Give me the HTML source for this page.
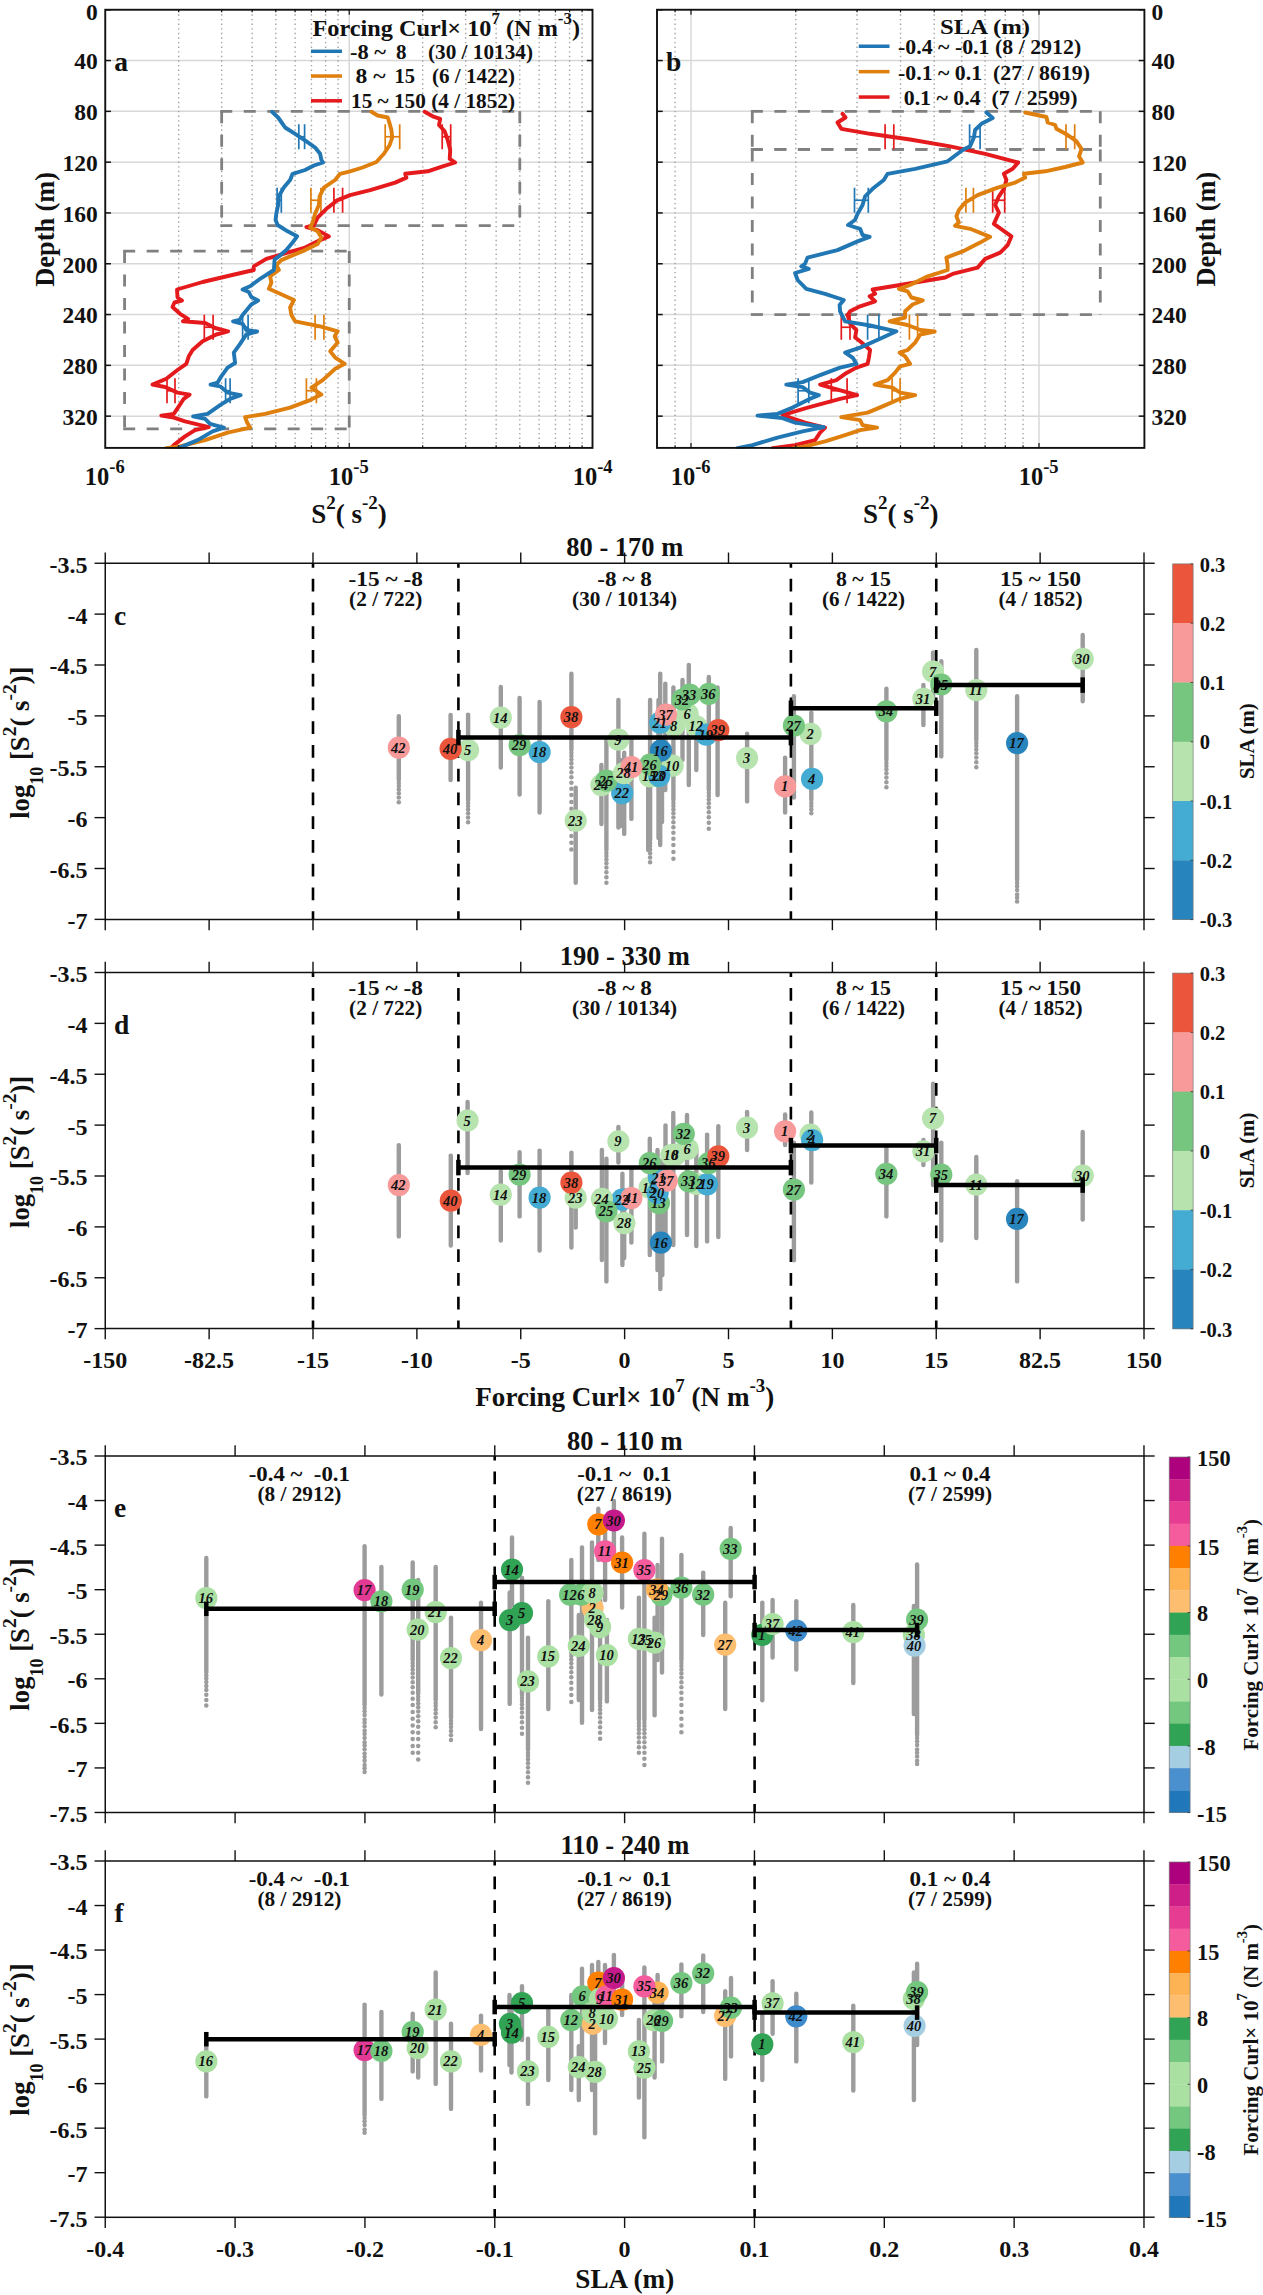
<!DOCTYPE html>
<html><head><meta charset="utf-8"><title>Figure</title>
<style>
html,body{margin:0;padding:0;background:#fff;}
svg{display:block;font-family:"Liberation Serif",serif;}
</style></head><body>
<svg width="1263" height="2295" viewBox="0 0 1263 2295" font-family="Liberation Serif, serif">
<rect width="1263" height="2295" fill="#fff"/>
<line x1="105.25" y1="60.55" x2="592.50" y2="60.55" stroke="#d8d8d8" stroke-width="1.5" />
<line x1="105.25" y1="111.35" x2="592.50" y2="111.35" stroke="#d8d8d8" stroke-width="1.5" />
<line x1="105.25" y1="162.15" x2="592.50" y2="162.15" stroke="#d8d8d8" stroke-width="1.5" />
<line x1="105.25" y1="212.95" x2="592.50" y2="212.95" stroke="#d8d8d8" stroke-width="1.5" />
<line x1="105.25" y1="263.75" x2="592.50" y2="263.75" stroke="#d8d8d8" stroke-width="1.5" />
<line x1="105.25" y1="314.55" x2="592.50" y2="314.55" stroke="#d8d8d8" stroke-width="1.5" />
<line x1="105.25" y1="365.35" x2="592.50" y2="365.35" stroke="#d8d8d8" stroke-width="1.5" />
<line x1="105.25" y1="416.15" x2="592.50" y2="416.15" stroke="#d8d8d8" stroke-width="1.5" />
<line x1="178.70" y1="9.75" x2="178.70" y2="447.90" stroke="#a2a2a2" stroke-width="1.4" stroke-dasharray="1.4 3.2"/>
<line x1="221.67" y1="9.75" x2="221.67" y2="447.90" stroke="#a2a2a2" stroke-width="1.4" stroke-dasharray="1.4 3.2"/>
<line x1="252.15" y1="9.75" x2="252.15" y2="447.90" stroke="#a2a2a2" stroke-width="1.4" stroke-dasharray="1.4 3.2"/>
<line x1="275.80" y1="9.75" x2="275.80" y2="447.90" stroke="#a2a2a2" stroke-width="1.4" stroke-dasharray="1.4 3.2"/>
<line x1="295.12" y1="9.75" x2="295.12" y2="447.90" stroke="#a2a2a2" stroke-width="1.4" stroke-dasharray="1.4 3.2"/>
<line x1="311.45" y1="9.75" x2="311.45" y2="447.90" stroke="#a2a2a2" stroke-width="1.4" stroke-dasharray="1.4 3.2"/>
<line x1="325.60" y1="9.75" x2="325.60" y2="447.90" stroke="#a2a2a2" stroke-width="1.4" stroke-dasharray="1.4 3.2"/>
<line x1="338.09" y1="9.75" x2="338.09" y2="447.90" stroke="#a2a2a2" stroke-width="1.4" stroke-dasharray="1.4 3.2"/>
<line x1="349.25" y1="9.75" x2="349.25" y2="447.90" stroke="#d8d8d8" stroke-width="1.5" />
<line x1="422.70" y1="9.75" x2="422.70" y2="447.90" stroke="#a2a2a2" stroke-width="1.4" stroke-dasharray="1.4 3.2"/>
<line x1="465.67" y1="9.75" x2="465.67" y2="447.90" stroke="#a2a2a2" stroke-width="1.4" stroke-dasharray="1.4 3.2"/>
<line x1="496.15" y1="9.75" x2="496.15" y2="447.90" stroke="#a2a2a2" stroke-width="1.4" stroke-dasharray="1.4 3.2"/>
<line x1="519.80" y1="9.75" x2="519.80" y2="447.90" stroke="#a2a2a2" stroke-width="1.4" stroke-dasharray="1.4 3.2"/>
<line x1="539.12" y1="9.75" x2="539.12" y2="447.90" stroke="#a2a2a2" stroke-width="1.4" stroke-dasharray="1.4 3.2"/>
<line x1="555.45" y1="9.75" x2="555.45" y2="447.90" stroke="#a2a2a2" stroke-width="1.4" stroke-dasharray="1.4 3.2"/>
<line x1="569.60" y1="9.75" x2="569.60" y2="447.90" stroke="#a2a2a2" stroke-width="1.4" stroke-dasharray="1.4 3.2"/>
<line x1="582.09" y1="9.75" x2="582.09" y2="447.90" stroke="#a2a2a2" stroke-width="1.4" stroke-dasharray="1.4 3.2"/>
<line x1="220.27" y1="111.35" x2="519.80" y2="111.35" stroke="#808080" stroke-width="2.8" stroke-dasharray="12 11.5"/>
<line x1="220.27" y1="225.65" x2="519.80" y2="225.65" stroke="#808080" stroke-width="2.8" stroke-dasharray="12 11.5"/>
<line x1="221.67" y1="111.35" x2="221.67" y2="225.65" stroke="#808080" stroke-width="2.8" stroke-dasharray="12 11.5"/>
<line x1="519.80" y1="111.35" x2="519.80" y2="225.65" stroke="#808080" stroke-width="2.8" stroke-dasharray="12 11.5"/>
<line x1="123.17" y1="251.05" x2="349.25" y2="251.05" stroke="#808080" stroke-width="2.8" stroke-dasharray="12 11.5"/>
<line x1="123.17" y1="428.85" x2="349.25" y2="428.85" stroke="#808080" stroke-width="2.8" stroke-dasharray="12 11.5"/>
<line x1="124.57" y1="251.05" x2="124.57" y2="428.85" stroke="#808080" stroke-width="2.8" stroke-dasharray="12 11.5"/>
<line x1="349.25" y1="251.05" x2="349.25" y2="428.85" stroke="#808080" stroke-width="2.8" stroke-dasharray="12 11.5"/>
<line x1="298.80" y1="124.25" x2="298.80" y2="149.25" stroke="#2077B4" stroke-width="1.7" />
<line x1="304.60" y1="124.25" x2="304.60" y2="149.25" stroke="#2077B4" stroke-width="1.7" />
<line x1="298.80" y1="136.75" x2="304.60" y2="136.75" stroke="#2077B4" stroke-width="1.7" />
<line x1="277.10" y1="187.75" x2="277.10" y2="212.75" stroke="#2077B4" stroke-width="1.7" />
<line x1="281.30" y1="187.75" x2="281.30" y2="212.75" stroke="#2077B4" stroke-width="1.7" />
<line x1="277.10" y1="200.25" x2="281.30" y2="200.25" stroke="#2077B4" stroke-width="1.7" />
<line x1="242.60" y1="314.75" x2="242.60" y2="339.75" stroke="#2077B4" stroke-width="1.7" />
<line x1="248.10" y1="314.75" x2="248.10" y2="339.75" stroke="#2077B4" stroke-width="1.7" />
<line x1="242.60" y1="327.25" x2="248.10" y2="327.25" stroke="#2077B4" stroke-width="1.7" />
<line x1="225.60" y1="378.25" x2="225.60" y2="403.25" stroke="#2077B4" stroke-width="1.7" />
<line x1="230.10" y1="378.25" x2="230.10" y2="403.25" stroke="#2077B4" stroke-width="1.7" />
<line x1="225.60" y1="390.75" x2="230.10" y2="390.75" stroke="#2077B4" stroke-width="1.7" />
<line x1="385.20" y1="124.25" x2="385.20" y2="149.25" stroke="#DF7F0E" stroke-width="1.7" />
<line x1="399.70" y1="124.25" x2="399.70" y2="149.25" stroke="#DF7F0E" stroke-width="1.7" />
<line x1="385.20" y1="136.75" x2="399.70" y2="136.75" stroke="#DF7F0E" stroke-width="1.7" />
<line x1="310.90" y1="187.75" x2="310.90" y2="212.75" stroke="#DF7F0E" stroke-width="1.7" />
<line x1="320.90" y1="187.75" x2="320.90" y2="212.75" stroke="#DF7F0E" stroke-width="1.7" />
<line x1="310.90" y1="200.25" x2="320.90" y2="200.25" stroke="#DF7F0E" stroke-width="1.7" />
<line x1="315.10" y1="314.75" x2="315.10" y2="339.75" stroke="#DF7F0E" stroke-width="1.7" />
<line x1="323.90" y1="314.75" x2="323.90" y2="339.75" stroke="#DF7F0E" stroke-width="1.7" />
<line x1="315.10" y1="327.25" x2="323.90" y2="327.25" stroke="#DF7F0E" stroke-width="1.7" />
<line x1="306.40" y1="378.25" x2="306.40" y2="403.25" stroke="#DF7F0E" stroke-width="1.7" />
<line x1="316.40" y1="378.25" x2="316.40" y2="403.25" stroke="#DF7F0E" stroke-width="1.7" />
<line x1="306.40" y1="390.75" x2="316.40" y2="390.75" stroke="#DF7F0E" stroke-width="1.7" />
<line x1="442.20" y1="124.25" x2="442.20" y2="149.25" stroke="#E41A1C" stroke-width="1.7" />
<line x1="450.70" y1="124.25" x2="450.70" y2="149.25" stroke="#E41A1C" stroke-width="1.7" />
<line x1="442.20" y1="136.75" x2="450.70" y2="136.75" stroke="#E41A1C" stroke-width="1.7" />
<line x1="333.90" y1="187.75" x2="333.90" y2="212.75" stroke="#E41A1C" stroke-width="1.7" />
<line x1="342.60" y1="187.75" x2="342.60" y2="212.75" stroke="#E41A1C" stroke-width="1.7" />
<line x1="333.90" y1="200.25" x2="342.60" y2="200.25" stroke="#E41A1C" stroke-width="1.7" />
<line x1="204.30" y1="314.75" x2="204.30" y2="339.75" stroke="#E41A1C" stroke-width="1.7" />
<line x1="213.10" y1="314.75" x2="213.10" y2="339.75" stroke="#E41A1C" stroke-width="1.7" />
<line x1="204.30" y1="327.25" x2="213.10" y2="327.25" stroke="#E41A1C" stroke-width="1.7" />
<line x1="167.00" y1="378.25" x2="167.00" y2="403.25" stroke="#E41A1C" stroke-width="1.7" />
<line x1="175.00" y1="378.25" x2="175.00" y2="403.25" stroke="#E41A1C" stroke-width="1.7" />
<line x1="167.00" y1="390.75" x2="175.00" y2="390.75" stroke="#E41A1C" stroke-width="1.7" />
<clipPath id="clipA"><rect x="105.25" y="9.75" width="487.25" height="439"/></clipPath><g clip-path="url(#clipA)">
<polyline points="424.7,111.8 432.7,116.3 440.2,118.8 439.0,125.0 444.7,131.3 447.7,140.0 450.2,150.0 449.7,158.8 455.2,162.5 442.7,166.3 427.7,171.3 405.2,173.8 406.4,177.6 395.2,182.6 370.2,190.1 350.1,195.1 337.6,200.1 326.4,208.8 317.6,217.6 313.9,225.1 306.4,227.1 317.6,230.1 328.9,236.4 320.1,240.1 305.1,247.6 287.6,252.6 266.3,258.9 253.8,266.4 253.8,270.0 230.1,275.5 202.6,282.0 177.0,289.5 177.5,297.5 182.0,300.5 174.5,302.5 172.5,307.0 180.0,313.8 188.1,318.8 183.0,321.3 205.1,323.0 215.1,328.0 228.1,331.3 216.3,334.5 202.6,341.3 192.6,350.0 188.8,356.3 186.3,363.8 177.5,370.0 166.3,378.8 152.5,384.6 165.0,387.0 177.5,392.6 189.6,394.6 183.8,398.8 178.8,406.4 173.8,413.9 161.3,415.6 173.8,417.6 185.0,421.4 208.8,427.1 195.0,430.1 185.0,436.4 173.8,445.1 171.3,448.0" fill="none" stroke="#E41A1C" stroke-width="3.9" stroke-linejoin="round" stroke-linecap="round"/>
<polyline points="371.4,111.8 377.7,115.5 387.7,117.5 389.7,123.8 391.4,130.0 392.2,137.5 389.7,145.0 383.9,153.8 376.4,162.0 362.6,167.5 350.1,171.3 340.1,173.8 335.1,180.0 323.9,187.6 319.6,196.3 318.9,205.0 315.1,213.8 312.6,222.6 310.1,227.6 317.6,231.3 321.4,237.6 317.6,243.9 305.1,250.1 290.1,256.4 281.3,260.1 276.3,265.1 278.9,270.0 270.1,276.3 271.4,282.5 268.9,288.8 280.1,293.8 293.9,300.0 290.1,307.5 291.4,315.0 295.1,321.3 320.2,326.3 337.7,331.3 334.7,336.3 337.7,342.6 330.2,351.3 335.2,357.6 344.7,363.8 335.2,368.8 322.7,380.1 311.4,387.6 321.4,394.6 310.1,400.1 290.1,407.6 265.1,413.9 245.1,417.1 247.1,422.6 250.1,427.6 227.6,432.6 205.1,440.1 180.0,446.4 166.3,448.1" fill="none" stroke="#DF7F0E" stroke-width="3.9" stroke-linejoin="round" stroke-linecap="round"/>
<polyline points="272.1,111.8 278.1,117.5 281.3,122.0 285.1,127.5 295.1,133.8 306.4,141.3 315.1,147.5 320.1,153.8 321.4,160.0 323.1,162.5 313.9,165.5 305.1,170.0 292.6,173.8 290.1,180.0 283.8,187.6 278.8,196.3 278.1,205.0 276.3,213.8 275.6,220.0 277.6,225.0 287.6,231.3 297.1,236.3 292.6,242.6 286.3,250.0 278.8,256.4 274.6,259.4 273.9,270.0 260.1,278.8 250.1,286.3 242.6,289.5 248.8,292.0 251.3,297.0 258.1,300.5 251.3,304.5 242.6,315.0 239.6,320.0 233.1,321.3 242.6,323.8 246.3,330.0 257.1,331.5 246.3,334.5 240.1,343.8 233.8,352.6 235.1,363.0 227.6,367.6 221.3,376.3 217.6,382.6 210.6,384.6 220.1,386.3 227.6,392.6 240.6,395.1 230.1,398.8 220.1,405.1 207.6,413.9 193.1,416.4 205.1,418.9 210.1,423.9 223.8,427.6 212.6,431.4 197.6,440.1 177.5,448.5" fill="none" stroke="#2077B4" stroke-width="3.9" stroke-linejoin="round" stroke-linecap="round"/>
</g>
<rect x="105.25" y="9.75" width="487.25" height="438.15" fill="none" stroke="#111" stroke-width="1.9"/>
<line x1="105.25" y1="9.75" x2="110.95" y2="9.75" stroke="#111" stroke-width="1.5" />
<line x1="592.50" y1="9.75" x2="586.80" y2="9.75" stroke="#111" stroke-width="1.5" />
<line x1="105.25" y1="60.55" x2="110.95" y2="60.55" stroke="#111" stroke-width="1.5" />
<line x1="592.50" y1="60.55" x2="586.80" y2="60.55" stroke="#111" stroke-width="1.5" />
<line x1="105.25" y1="111.35" x2="110.95" y2="111.35" stroke="#111" stroke-width="1.5" />
<line x1="592.50" y1="111.35" x2="586.80" y2="111.35" stroke="#111" stroke-width="1.5" />
<line x1="105.25" y1="162.15" x2="110.95" y2="162.15" stroke="#111" stroke-width="1.5" />
<line x1="592.50" y1="162.15" x2="586.80" y2="162.15" stroke="#111" stroke-width="1.5" />
<line x1="105.25" y1="212.95" x2="110.95" y2="212.95" stroke="#111" stroke-width="1.5" />
<line x1="592.50" y1="212.95" x2="586.80" y2="212.95" stroke="#111" stroke-width="1.5" />
<line x1="105.25" y1="263.75" x2="110.95" y2="263.75" stroke="#111" stroke-width="1.5" />
<line x1="592.50" y1="263.75" x2="586.80" y2="263.75" stroke="#111" stroke-width="1.5" />
<line x1="105.25" y1="314.55" x2="110.95" y2="314.55" stroke="#111" stroke-width="1.5" />
<line x1="592.50" y1="314.55" x2="586.80" y2="314.55" stroke="#111" stroke-width="1.5" />
<line x1="105.25" y1="365.35" x2="110.95" y2="365.35" stroke="#111" stroke-width="1.5" />
<line x1="592.50" y1="365.35" x2="586.80" y2="365.35" stroke="#111" stroke-width="1.5" />
<line x1="105.25" y1="416.15" x2="110.95" y2="416.15" stroke="#111" stroke-width="1.5" />
<line x1="592.50" y1="416.15" x2="586.80" y2="416.15" stroke="#111" stroke-width="1.5" />
<line x1="178.70" y1="9.75" x2="178.70" y2="12.35" stroke="#111" stroke-width="1.2" />
<line x1="178.70" y1="447.90" x2="178.70" y2="445.30" stroke="#111" stroke-width="1.2" />
<line x1="221.67" y1="9.75" x2="221.67" y2="12.35" stroke="#111" stroke-width="1.2" />
<line x1="221.67" y1="447.90" x2="221.67" y2="445.30" stroke="#111" stroke-width="1.2" />
<line x1="252.15" y1="9.75" x2="252.15" y2="12.35" stroke="#111" stroke-width="1.2" />
<line x1="252.15" y1="447.90" x2="252.15" y2="445.30" stroke="#111" stroke-width="1.2" />
<line x1="275.80" y1="9.75" x2="275.80" y2="12.35" stroke="#111" stroke-width="1.2" />
<line x1="275.80" y1="447.90" x2="275.80" y2="445.30" stroke="#111" stroke-width="1.2" />
<line x1="295.12" y1="9.75" x2="295.12" y2="12.35" stroke="#111" stroke-width="1.2" />
<line x1="295.12" y1="447.90" x2="295.12" y2="445.30" stroke="#111" stroke-width="1.2" />
<line x1="311.45" y1="9.75" x2="311.45" y2="12.35" stroke="#111" stroke-width="1.2" />
<line x1="311.45" y1="447.90" x2="311.45" y2="445.30" stroke="#111" stroke-width="1.2" />
<line x1="325.60" y1="9.75" x2="325.60" y2="12.35" stroke="#111" stroke-width="1.2" />
<line x1="325.60" y1="447.90" x2="325.60" y2="445.30" stroke="#111" stroke-width="1.2" />
<line x1="338.09" y1="9.75" x2="338.09" y2="12.35" stroke="#111" stroke-width="1.2" />
<line x1="338.09" y1="447.90" x2="338.09" y2="445.30" stroke="#111" stroke-width="1.2" />
<line x1="349.25" y1="9.75" x2="349.25" y2="14.75" stroke="#111" stroke-width="1.2" />
<line x1="349.25" y1="447.90" x2="349.25" y2="442.90" stroke="#111" stroke-width="1.2" />
<line x1="422.70" y1="9.75" x2="422.70" y2="12.35" stroke="#111" stroke-width="1.2" />
<line x1="422.70" y1="447.90" x2="422.70" y2="445.30" stroke="#111" stroke-width="1.2" />
<line x1="465.67" y1="9.75" x2="465.67" y2="12.35" stroke="#111" stroke-width="1.2" />
<line x1="465.67" y1="447.90" x2="465.67" y2="445.30" stroke="#111" stroke-width="1.2" />
<line x1="496.15" y1="9.75" x2="496.15" y2="12.35" stroke="#111" stroke-width="1.2" />
<line x1="496.15" y1="447.90" x2="496.15" y2="445.30" stroke="#111" stroke-width="1.2" />
<line x1="519.80" y1="9.75" x2="519.80" y2="12.35" stroke="#111" stroke-width="1.2" />
<line x1="519.80" y1="447.90" x2="519.80" y2="445.30" stroke="#111" stroke-width="1.2" />
<line x1="539.12" y1="9.75" x2="539.12" y2="12.35" stroke="#111" stroke-width="1.2" />
<line x1="539.12" y1="447.90" x2="539.12" y2="445.30" stroke="#111" stroke-width="1.2" />
<line x1="555.45" y1="9.75" x2="555.45" y2="12.35" stroke="#111" stroke-width="1.2" />
<line x1="555.45" y1="447.90" x2="555.45" y2="445.30" stroke="#111" stroke-width="1.2" />
<line x1="569.60" y1="9.75" x2="569.60" y2="12.35" stroke="#111" stroke-width="1.2" />
<line x1="569.60" y1="447.90" x2="569.60" y2="445.30" stroke="#111" stroke-width="1.2" />
<line x1="582.09" y1="9.75" x2="582.09" y2="12.35" stroke="#111" stroke-width="1.2" />
<line x1="582.09" y1="447.90" x2="582.09" y2="445.30" stroke="#111" stroke-width="1.2" />
<line x1="657.00" y1="60.55" x2="1144.40" y2="60.55" stroke="#d8d8d8" stroke-width="1.5" />
<line x1="657.00" y1="111.35" x2="1144.40" y2="111.35" stroke="#d8d8d8" stroke-width="1.5" />
<line x1="657.00" y1="162.15" x2="1144.40" y2="162.15" stroke="#d8d8d8" stroke-width="1.5" />
<line x1="657.00" y1="212.95" x2="1144.40" y2="212.95" stroke="#d8d8d8" stroke-width="1.5" />
<line x1="657.00" y1="263.75" x2="1144.40" y2="263.75" stroke="#d8d8d8" stroke-width="1.5" />
<line x1="657.00" y1="314.55" x2="1144.40" y2="314.55" stroke="#d8d8d8" stroke-width="1.5" />
<line x1="657.00" y1="365.35" x2="1144.40" y2="365.35" stroke="#d8d8d8" stroke-width="1.5" />
<line x1="657.00" y1="416.15" x2="1144.40" y2="416.15" stroke="#d8d8d8" stroke-width="1.5" />
<line x1="675.08" y1="9.75" x2="675.08" y2="447.90" stroke="#a2a2a2" stroke-width="1.4" stroke-dasharray="1.4 3.2"/>
<line x1="691.00" y1="9.75" x2="691.00" y2="447.90" stroke="#d8d8d8" stroke-width="1.5" />
<line x1="795.76" y1="9.75" x2="795.76" y2="447.90" stroke="#a2a2a2" stroke-width="1.4" stroke-dasharray="1.4 3.2"/>
<line x1="857.04" y1="9.75" x2="857.04" y2="447.90" stroke="#a2a2a2" stroke-width="1.4" stroke-dasharray="1.4 3.2"/>
<line x1="900.52" y1="9.75" x2="900.52" y2="447.90" stroke="#a2a2a2" stroke-width="1.4" stroke-dasharray="1.4 3.2"/>
<line x1="934.24" y1="9.75" x2="934.24" y2="447.90" stroke="#a2a2a2" stroke-width="1.4" stroke-dasharray="1.4 3.2"/>
<line x1="961.80" y1="9.75" x2="961.80" y2="447.90" stroke="#a2a2a2" stroke-width="1.4" stroke-dasharray="1.4 3.2"/>
<line x1="985.09" y1="9.75" x2="985.09" y2="447.90" stroke="#a2a2a2" stroke-width="1.4" stroke-dasharray="1.4 3.2"/>
<line x1="1005.28" y1="9.75" x2="1005.28" y2="447.90" stroke="#a2a2a2" stroke-width="1.4" stroke-dasharray="1.4 3.2"/>
<line x1="1023.08" y1="9.75" x2="1023.08" y2="447.90" stroke="#a2a2a2" stroke-width="1.4" stroke-dasharray="1.4 3.2"/>
<line x1="1039.00" y1="9.75" x2="1039.00" y2="447.90" stroke="#d8d8d8" stroke-width="1.5" />
<line x1="750.88" y1="111.35" x2="1100.28" y2="111.35" stroke="#808080" stroke-width="2.8" stroke-dasharray="12 11.5"/>
<line x1="750.88" y1="149.45" x2="1100.28" y2="149.45" stroke="#808080" stroke-width="2.8" stroke-dasharray="12 11.5"/>
<line x1="752.28" y1="111.35" x2="752.28" y2="149.45" stroke="#808080" stroke-width="2.8" stroke-dasharray="12 11.5"/>
<line x1="1100.28" y1="111.35" x2="1100.28" y2="149.45" stroke="#808080" stroke-width="2.8" stroke-dasharray="12 11.5"/>
<line x1="750.88" y1="149.45" x2="1100.28" y2="149.45" stroke="#808080" stroke-width="2.8" stroke-dasharray="12 11.5"/>
<line x1="750.88" y1="314.55" x2="1100.28" y2="314.55" stroke="#808080" stroke-width="2.8" stroke-dasharray="12 11.5"/>
<line x1="752.28" y1="149.45" x2="752.28" y2="314.55" stroke="#808080" stroke-width="2.8" stroke-dasharray="12 11.5"/>
<line x1="1100.28" y1="149.45" x2="1100.28" y2="314.55" stroke="#808080" stroke-width="2.8" stroke-dasharray="12 11.5"/>
<line x1="969.60" y1="124.25" x2="969.60" y2="149.25" stroke="#2077B4" stroke-width="1.7" />
<line x1="980.10" y1="124.25" x2="980.10" y2="149.25" stroke="#2077B4" stroke-width="1.7" />
<line x1="969.60" y1="136.75" x2="980.10" y2="136.75" stroke="#2077B4" stroke-width="1.7" />
<line x1="854.50" y1="187.75" x2="854.50" y2="212.75" stroke="#2077B4" stroke-width="1.7" />
<line x1="868.30" y1="187.75" x2="868.30" y2="212.75" stroke="#2077B4" stroke-width="1.7" />
<line x1="854.50" y1="200.25" x2="868.30" y2="200.25" stroke="#2077B4" stroke-width="1.7" />
<line x1="867.60" y1="314.75" x2="867.60" y2="339.75" stroke="#2077B4" stroke-width="1.7" />
<line x1="878.90" y1="314.75" x2="878.90" y2="339.75" stroke="#2077B4" stroke-width="1.7" />
<line x1="867.60" y1="327.25" x2="878.90" y2="327.25" stroke="#2077B4" stroke-width="1.7" />
<line x1="798.10" y1="378.25" x2="798.10" y2="403.25" stroke="#2077B4" stroke-width="1.7" />
<line x1="808.80" y1="378.25" x2="808.80" y2="403.25" stroke="#2077B4" stroke-width="1.7" />
<line x1="798.10" y1="390.75" x2="808.80" y2="390.75" stroke="#2077B4" stroke-width="1.7" />
<line x1="1066.00" y1="124.25" x2="1066.00" y2="149.25" stroke="#DF7F0E" stroke-width="1.7" />
<line x1="1074.70" y1="124.25" x2="1074.70" y2="149.25" stroke="#DF7F0E" stroke-width="1.7" />
<line x1="1066.00" y1="136.75" x2="1074.70" y2="136.75" stroke="#DF7F0E" stroke-width="1.7" />
<line x1="965.90" y1="187.75" x2="965.90" y2="212.75" stroke="#DF7F0E" stroke-width="1.7" />
<line x1="973.40" y1="187.75" x2="973.40" y2="212.75" stroke="#DF7F0E" stroke-width="1.7" />
<line x1="965.90" y1="200.25" x2="973.40" y2="200.25" stroke="#DF7F0E" stroke-width="1.7" />
<line x1="909.40" y1="314.75" x2="909.40" y2="339.75" stroke="#DF7F0E" stroke-width="1.7" />
<line x1="917.60" y1="314.75" x2="917.60" y2="339.75" stroke="#DF7F0E" stroke-width="1.7" />
<line x1="909.40" y1="327.25" x2="917.60" y2="327.25" stroke="#DF7F0E" stroke-width="1.7" />
<line x1="892.10" y1="378.25" x2="892.10" y2="403.25" stroke="#DF7F0E" stroke-width="1.7" />
<line x1="900.10" y1="378.25" x2="900.10" y2="403.25" stroke="#DF7F0E" stroke-width="1.7" />
<line x1="892.10" y1="390.75" x2="900.10" y2="390.75" stroke="#DF7F0E" stroke-width="1.7" />
<line x1="885.10" y1="124.25" x2="885.10" y2="149.25" stroke="#E41A1C" stroke-width="1.7" />
<line x1="893.80" y1="124.25" x2="893.80" y2="149.25" stroke="#E41A1C" stroke-width="1.7" />
<line x1="885.10" y1="136.75" x2="893.80" y2="136.75" stroke="#E41A1C" stroke-width="1.7" />
<line x1="992.70" y1="187.75" x2="992.70" y2="212.75" stroke="#E41A1C" stroke-width="1.7" />
<line x1="1004.70" y1="187.75" x2="1004.70" y2="212.75" stroke="#E41A1C" stroke-width="1.7" />
<line x1="992.70" y1="200.25" x2="1004.70" y2="200.25" stroke="#E41A1C" stroke-width="1.7" />
<line x1="841.30" y1="314.75" x2="841.30" y2="339.75" stroke="#E41A1C" stroke-width="1.7" />
<line x1="850.00" y1="314.75" x2="850.00" y2="339.75" stroke="#E41A1C" stroke-width="1.7" />
<line x1="841.30" y1="327.25" x2="850.00" y2="327.25" stroke="#E41A1C" stroke-width="1.7" />
<line x1="831.30" y1="378.25" x2="831.30" y2="403.25" stroke="#E41A1C" stroke-width="1.7" />
<line x1="847.10" y1="378.25" x2="847.10" y2="403.25" stroke="#E41A1C" stroke-width="1.7" />
<line x1="831.30" y1="390.75" x2="847.10" y2="390.75" stroke="#E41A1C" stroke-width="1.7" />
<clipPath id="clipB"><rect x="657" y="9.75" width="487.4" height="439"/></clipPath><g clip-path="url(#clipB)">
<polyline points="842.5,113.8 845.5,117.5 837.5,122.5 841.3,128.8 870.1,133.8 910.1,139.5 950.1,146.3 985.2,153.8 1018.2,162.5 1012.7,168.8 1003.9,173.8 1006.4,180.0 1003.9,188.8 998.9,196.3 995.2,205.0 998.9,212.6 993.9,223.8 1002.7,230.1 1011.4,236.4 1007.7,245.1 1000.2,252.6 985.2,258.9 977.6,267.6 952.6,273.9 945.2,277.5 900.1,285.0 872.6,289.5 875.1,293.8 869.6,296.3 875.1,301.3 860.1,306.3 850.1,311.3 847.6,315.0 850.1,323.8 856.4,330.0 855.1,337.5 860.1,341.3 870.1,350.0 868.9,357.6 867.6,363.8 856.4,367.6 845.1,373.8 836.3,380.1 820.1,384.6 835.1,388.8 857.1,395.1 840.1,398.8 807.6,407.6 782.5,415.1 805.1,422.6 825.1,427.6 820.1,432.6 815.1,440.1 795.1,445.1 772.5,448.1" fill="none" stroke="#E41A1C" stroke-width="3.9" stroke-linejoin="round" stroke-linecap="round"/>
<polyline points="1025.2,112.5 1046.4,117.0 1047.7,122.5 1055.2,125.0 1056.4,128.8 1067.7,135.0 1076.5,141.3 1081.5,148.8 1079.0,156.3 1082.7,162.5 1065.2,167.0 1045.2,171.3 1023.9,173.8 1025.2,177.6 1015.2,182.6 997.7,187.6 977.6,195.1 965.1,202.6 958.9,210.1 956.4,216.3 958.9,222.6 955.1,225.8 970.1,228.8 990.2,236.9 980.1,242.6 962.6,251.4 946.4,257.6 947.6,265.1 947.7,270.0 927.7,276.3 910.1,285.0 898.9,288.8 907.6,291.3 911.4,297.5 922.7,300.5 912.6,304.5 905.1,311.3 905.1,317.5 889.6,321.3 907.6,325.0 920.2,330.0 934.7,331.5 920.2,334.5 915.1,342.6 907.6,350.0 899.6,352.6 905.1,356.3 910.1,363.8 900.1,366.3 895.1,372.6 887.6,380.1 874.6,384.6 892.6,387.6 900.1,392.6 915.1,395.1 900.1,398.8 882.6,406.4 867.6,412.6 841.3,417.1 860.1,420.1 862.6,425.1 877.1,427.6 860.1,430.1 845.1,435.1 825.1,441.4 805.1,446.4 792.6,448.4" fill="none" stroke="#DF7F0E" stroke-width="3.9" stroke-linejoin="round" stroke-linecap="round"/>
<polyline points="986.4,112.5 992.7,118.0 981.4,123.8 975.1,130.0 973.9,137.5 970.1,146.3 962.6,150.0 947.6,161.3 915.1,168.8 887.6,173.8 883.8,180.0 872.6,188.8 865.1,196.3 862.6,205.0 857.6,213.8 855.0,220.0 848.0,225.0 860.1,228.8 862.6,235.1 869.6,236.9 857.6,241.4 837.5,250.1 807.5,257.6 805.0,263.9 801.3,266.4 808.8,268.9 795.1,273.0 797.6,280.0 806.3,288.8 825.1,293.8 843.8,300.0 839.6,305.0 840.1,311.3 845.1,321.3 870.1,325.5 896.4,331.3 880.1,338.8 860.1,347.6 845.1,352.6 852.6,357.6 856.4,363.8 840.1,367.6 820.1,375.1 802.6,382.1 786.3,384.6 802.6,387.1 810.1,392.6 818.8,395.1 810.1,398.8 792.6,407.6 777.5,413.9 757.5,415.6 782.5,418.1 795.1,422.6 823.8,427.1 802.6,431.4 777.5,437.6 752.5,445.1 737.5,448.1" fill="none" stroke="#2077B4" stroke-width="3.9" stroke-linejoin="round" stroke-linecap="round"/>
</g>
<rect x="657.00" y="9.75" width="487.40" height="438.15" fill="none" stroke="#111" stroke-width="1.9"/>
<line x1="657.00" y1="9.75" x2="662.70" y2="9.75" stroke="#111" stroke-width="1.5" />
<line x1="1144.40" y1="9.75" x2="1138.70" y2="9.75" stroke="#111" stroke-width="1.5" />
<line x1="657.00" y1="60.55" x2="662.70" y2="60.55" stroke="#111" stroke-width="1.5" />
<line x1="1144.40" y1="60.55" x2="1138.70" y2="60.55" stroke="#111" stroke-width="1.5" />
<line x1="657.00" y1="111.35" x2="662.70" y2="111.35" stroke="#111" stroke-width="1.5" />
<line x1="1144.40" y1="111.35" x2="1138.70" y2="111.35" stroke="#111" stroke-width="1.5" />
<line x1="657.00" y1="162.15" x2="662.70" y2="162.15" stroke="#111" stroke-width="1.5" />
<line x1="1144.40" y1="162.15" x2="1138.70" y2="162.15" stroke="#111" stroke-width="1.5" />
<line x1="657.00" y1="212.95" x2="662.70" y2="212.95" stroke="#111" stroke-width="1.5" />
<line x1="1144.40" y1="212.95" x2="1138.70" y2="212.95" stroke="#111" stroke-width="1.5" />
<line x1="657.00" y1="263.75" x2="662.70" y2="263.75" stroke="#111" stroke-width="1.5" />
<line x1="1144.40" y1="263.75" x2="1138.70" y2="263.75" stroke="#111" stroke-width="1.5" />
<line x1="657.00" y1="314.55" x2="662.70" y2="314.55" stroke="#111" stroke-width="1.5" />
<line x1="1144.40" y1="314.55" x2="1138.70" y2="314.55" stroke="#111" stroke-width="1.5" />
<line x1="657.00" y1="365.35" x2="662.70" y2="365.35" stroke="#111" stroke-width="1.5" />
<line x1="1144.40" y1="365.35" x2="1138.70" y2="365.35" stroke="#111" stroke-width="1.5" />
<line x1="657.00" y1="416.15" x2="662.70" y2="416.15" stroke="#111" stroke-width="1.5" />
<line x1="1144.40" y1="416.15" x2="1138.70" y2="416.15" stroke="#111" stroke-width="1.5" />
<line x1="675.08" y1="9.75" x2="675.08" y2="12.35" stroke="#111" stroke-width="1.2" />
<line x1="675.08" y1="447.90" x2="675.08" y2="445.30" stroke="#111" stroke-width="1.2" />
<line x1="691.00" y1="9.75" x2="691.00" y2="14.75" stroke="#111" stroke-width="1.2" />
<line x1="691.00" y1="447.90" x2="691.00" y2="442.90" stroke="#111" stroke-width="1.2" />
<line x1="795.76" y1="9.75" x2="795.76" y2="12.35" stroke="#111" stroke-width="1.2" />
<line x1="795.76" y1="447.90" x2="795.76" y2="445.30" stroke="#111" stroke-width="1.2" />
<line x1="857.04" y1="9.75" x2="857.04" y2="12.35" stroke="#111" stroke-width="1.2" />
<line x1="857.04" y1="447.90" x2="857.04" y2="445.30" stroke="#111" stroke-width="1.2" />
<line x1="900.52" y1="9.75" x2="900.52" y2="12.35" stroke="#111" stroke-width="1.2" />
<line x1="900.52" y1="447.90" x2="900.52" y2="445.30" stroke="#111" stroke-width="1.2" />
<line x1="934.24" y1="9.75" x2="934.24" y2="12.35" stroke="#111" stroke-width="1.2" />
<line x1="934.24" y1="447.90" x2="934.24" y2="445.30" stroke="#111" stroke-width="1.2" />
<line x1="961.80" y1="9.75" x2="961.80" y2="12.35" stroke="#111" stroke-width="1.2" />
<line x1="961.80" y1="447.90" x2="961.80" y2="445.30" stroke="#111" stroke-width="1.2" />
<line x1="985.09" y1="9.75" x2="985.09" y2="12.35" stroke="#111" stroke-width="1.2" />
<line x1="985.09" y1="447.90" x2="985.09" y2="445.30" stroke="#111" stroke-width="1.2" />
<line x1="1005.28" y1="9.75" x2="1005.28" y2="12.35" stroke="#111" stroke-width="1.2" />
<line x1="1005.28" y1="447.90" x2="1005.28" y2="445.30" stroke="#111" stroke-width="1.2" />
<line x1="1023.08" y1="9.75" x2="1023.08" y2="12.35" stroke="#111" stroke-width="1.2" />
<line x1="1023.08" y1="447.90" x2="1023.08" y2="445.30" stroke="#111" stroke-width="1.2" />
<line x1="1039.00" y1="9.75" x2="1039.00" y2="14.75" stroke="#111" stroke-width="1.2" />
<line x1="1039.00" y1="447.90" x2="1039.00" y2="442.90" stroke="#111" stroke-width="1.2" />
<text x="97.80" y="20.25" font-size="23.5" font-weight="bold" font-style="normal" text-anchor="end" fill="#111" >0</text>
<text x="1151.60" y="20.25" font-size="23.5" font-weight="bold" font-style="normal" text-anchor="start" fill="#111" >0</text>
<text x="97.80" y="69.45" font-size="23.5" font-weight="bold" font-style="normal" text-anchor="end" fill="#111" >40</text>
<text x="1151.60" y="69.45" font-size="23.5" font-weight="bold" font-style="normal" text-anchor="start" fill="#111" >40</text>
<text x="97.80" y="120.25" font-size="23.5" font-weight="bold" font-style="normal" text-anchor="end" fill="#111" >80</text>
<text x="1151.60" y="120.25" font-size="23.5" font-weight="bold" font-style="normal" text-anchor="start" fill="#111" >80</text>
<text x="97.80" y="171.05" font-size="23.5" font-weight="bold" font-style="normal" text-anchor="end" fill="#111" >120</text>
<text x="1151.60" y="171.05" font-size="23.5" font-weight="bold" font-style="normal" text-anchor="start" fill="#111" >120</text>
<text x="97.80" y="221.85" font-size="23.5" font-weight="bold" font-style="normal" text-anchor="end" fill="#111" >160</text>
<text x="1151.60" y="221.85" font-size="23.5" font-weight="bold" font-style="normal" text-anchor="start" fill="#111" >160</text>
<text x="97.80" y="272.65" font-size="23.5" font-weight="bold" font-style="normal" text-anchor="end" fill="#111" >200</text>
<text x="1151.60" y="272.65" font-size="23.5" font-weight="bold" font-style="normal" text-anchor="start" fill="#111" >200</text>
<text x="97.80" y="323.45" font-size="23.5" font-weight="bold" font-style="normal" text-anchor="end" fill="#111" >240</text>
<text x="1151.60" y="323.45" font-size="23.5" font-weight="bold" font-style="normal" text-anchor="start" fill="#111" >240</text>
<text x="97.80" y="374.25" font-size="23.5" font-weight="bold" font-style="normal" text-anchor="end" fill="#111" >280</text>
<text x="1151.60" y="374.25" font-size="23.5" font-weight="bold" font-style="normal" text-anchor="start" fill="#111" >280</text>
<text x="97.80" y="425.05" font-size="23.5" font-weight="bold" font-style="normal" text-anchor="end" fill="#111" >320</text>
<text x="1151.60" y="425.05" font-size="23.5" font-weight="bold" font-style="normal" text-anchor="start" fill="#111" >320</text>
<text x="104.80" y="485.20" font-size="24.5" font-weight="bold" text-anchor="middle" fill="#111">10<tspan dy="-11.9" font-size="18.5">-6</tspan></text>
<text x="348.80" y="485.20" font-size="24.5" font-weight="bold" text-anchor="middle" fill="#111">10<tspan dy="-11.9" font-size="18.5">-5</tspan></text>
<text x="592.60" y="485.20" font-size="24.5" font-weight="bold" text-anchor="middle" fill="#111">10<tspan dy="-11.9" font-size="18.5">-4</tspan></text>
<text x="690.60" y="485.20" font-size="24.5" font-weight="bold" text-anchor="middle" fill="#111">10<tspan dy="-11.9" font-size="18.5">-6</tspan></text>
<text x="1038.60" y="485.20" font-size="24.5" font-weight="bold" text-anchor="middle" fill="#111">10<tspan dy="-11.9" font-size="18.5">-5</tspan></text>
<text x="349.00" y="522.80" font-size="27" font-weight="bold" text-anchor="middle" fill="#111" xml:space="preserve">S<tspan dy="-13.4" font-size="19">2</tspan><tspan dy="13.4">( s</tspan><tspan dy="-13.4" font-size="19">-2</tspan><tspan dy="13.4">)</tspan></text>
<text x="900.70" y="522.80" font-size="27" font-weight="bold" text-anchor="middle" fill="#111" xml:space="preserve">S<tspan dy="-13.4" font-size="19">2</tspan><tspan dy="13.4">( s</tspan><tspan dy="-13.4" font-size="19">-2</tspan><tspan dy="13.4">)</tspan></text>
<text transform="translate(53.7,229.3) rotate(-90)" font-size="26.3" font-weight="bold" text-anchor="middle" fill="#111">Depth (m)</text>
<text transform="translate(1214.9,229.1) rotate(-90)" font-size="26.3" font-weight="bold" text-anchor="middle" fill="#111">Depth (m)</text>
<text x="114.20" y="70.90" font-size="27.5" font-weight="bold" font-style="normal" text-anchor="start" fill="#111" >a</text>
<text x="666.00" y="71.00" font-size="27.5" font-weight="bold" font-style="normal" text-anchor="start" fill="#111" >b</text>
<text x="312.50" y="36.00" font-size="22.5" font-weight="bold" text-anchor="start" fill="#111" xml:space="preserve" textLength="267.5" lengthAdjust="spacingAndGlyphs">Forcing Curl× 10<tspan dy="-11.9" font-size="15.7">7</tspan><tspan dy="11.9"> (N m</tspan><tspan dy="-11.9" font-size="15.7">-3</tspan><tspan dy="11.9">)</tspan></text>
<line x1="311.00" y1="51.30" x2="342.00" y2="51.30" stroke="#2077B4" stroke-width="3.5" />
<line x1="311.00" y1="76.05" x2="342.00" y2="76.05" stroke="#DF7F0E" stroke-width="3.5" />
<line x1="311.00" y1="100.80" x2="342.00" y2="100.80" stroke="#E41A1C" stroke-width="3.5" />
<text x="350.00" y="58.75" font-size="20.5" font-weight="bold" fill="#111" xml:space="preserve" textLength="36.0" lengthAdjust="spacingAndGlyphs">-8 ~</text>
<text x="396.00" y="58.75" font-size="20.5" font-weight="bold" fill="#111" xml:space="preserve" textLength="10.5" lengthAdjust="spacingAndGlyphs">8</text>
<text x="428.00" y="58.75" font-size="20.5" font-weight="bold" fill="#111" xml:space="preserve" textLength="105.0" lengthAdjust="spacingAndGlyphs">(30 / 10134)</text>
<text x="355.50" y="83.00" font-size="20.5" font-weight="bold" fill="#111" xml:space="preserve" textLength="30.0" lengthAdjust="spacingAndGlyphs">8 ~</text>
<text x="394.50" y="83.00" font-size="20.5" font-weight="bold" fill="#111" xml:space="preserve" textLength="20.5" lengthAdjust="spacingAndGlyphs">15</text>
<text x="432.00" y="83.00" font-size="20.5" font-weight="bold" fill="#111" xml:space="preserve" textLength="83.0" lengthAdjust="spacingAndGlyphs">(6 / 1422)</text>
<text x="351.00" y="108.00" font-size="20.5" font-weight="bold" fill="#111" xml:space="preserve" textLength="164.0" lengthAdjust="spacingAndGlyphs">15 ~ 150 (4 / 1852)</text>
<text x="985.00" y="33.75" font-size="21.5" font-weight="bold" font-style="normal" text-anchor="middle" fill="#111" textLength="90" lengthAdjust="spacingAndGlyphs">SLA (m)</text>
<line x1="858.75" y1="46.25" x2="889.50" y2="46.25" stroke="#2077B4" stroke-width="3.5" />
<line x1="858.75" y1="71.65" x2="889.50" y2="71.65" stroke="#DF7F0E" stroke-width="3.5" />
<line x1="858.75" y1="97.05" x2="889.50" y2="97.05" stroke="#E41A1C" stroke-width="3.5" />
<text x="898.00" y="53.75" font-size="20.5" font-weight="bold" fill="#111" xml:space="preserve" textLength="183.2" lengthAdjust="spacingAndGlyphs">-0.4 ~ -0.1 (8 / 2912)</text>
<text x="898.00" y="79.50" font-size="20.5" font-weight="bold" fill="#111" xml:space="preserve" textLength="192.0" lengthAdjust="spacingAndGlyphs">-0.1 ~ 0.1  (27 / 8619)</text>
<text x="903.75" y="104.50" font-size="20.5" font-weight="bold" fill="#111" xml:space="preserve" textLength="173.8" lengthAdjust="spacingAndGlyphs">0.1 ~ 0.4  (7 / 2599)</text>
<line x1="398.8" y1="716.3" x2="398.8" y2="780.0" stroke="#9c9c9c" stroke-width="4.4" stroke-linecap="round"/>
<circle cx="398.8" cy="783.0" r="2.25" fill="#9c9c9c"/>
<circle cx="398.8" cy="786.0" r="2.25" fill="#9c9c9c"/>
<circle cx="398.8" cy="789.4" r="2.25" fill="#9c9c9c"/>
<circle cx="398.8" cy="793.3" r="2.25" fill="#9c9c9c"/>
<circle cx="398.8" cy="797.5" r="2.25" fill="#9c9c9c"/>
<circle cx="398.8" cy="802.2" r="2.25" fill="#9c9c9c"/>
<line x1="450.6" y1="715.0" x2="450.6" y2="780.0" stroke="#9c9c9c" stroke-width="4.4" stroke-linecap="round"/>
<line x1="468.1" y1="714.6" x2="468.1" y2="800.0" stroke="#9c9c9c" stroke-width="4.4" stroke-linecap="round"/>
<circle cx="468.1" cy="803.0" r="2.25" fill="#9c9c9c"/>
<circle cx="468.1" cy="806.0" r="2.25" fill="#9c9c9c"/>
<circle cx="468.1" cy="809.4" r="2.25" fill="#9c9c9c"/>
<circle cx="468.1" cy="813.3" r="2.25" fill="#9c9c9c"/>
<circle cx="468.1" cy="817.5" r="2.25" fill="#9c9c9c"/>
<circle cx="468.1" cy="822.2" r="2.25" fill="#9c9c9c"/>
<line x1="500.8" y1="687.0" x2="500.8" y2="767.6" stroke="#9c9c9c" stroke-width="4.4" stroke-linecap="round"/>
<line x1="519.6" y1="698.0" x2="519.6" y2="794.6" stroke="#9c9c9c" stroke-width="4.4" stroke-linecap="round"/>
<line x1="539.6" y1="702.0" x2="539.6" y2="812.6" stroke="#9c9c9c" stroke-width="4.4" stroke-linecap="round"/>
<line x1="571.4" y1="673.8" x2="571.4" y2="750.0" stroke="#9c9c9c" stroke-width="4.4" stroke-linecap="round"/>
<circle cx="571.4" cy="753.0" r="2.25" fill="#9c9c9c"/>
<circle cx="571.4" cy="756.0" r="2.25" fill="#9c9c9c"/>
<circle cx="571.4" cy="759.4" r="2.25" fill="#9c9c9c"/>
<circle cx="571.4" cy="763.3" r="2.25" fill="#9c9c9c"/>
<circle cx="571.4" cy="767.5" r="2.25" fill="#9c9c9c"/>
<circle cx="571.4" cy="772.2" r="2.25" fill="#9c9c9c"/>
<circle cx="571.4" cy="777.3" r="2.25" fill="#9c9c9c"/>
<circle cx="571.4" cy="782.8" r="2.25" fill="#9c9c9c"/>
<circle cx="571.4" cy="788.8" r="2.25" fill="#9c9c9c"/>
<circle cx="571.4" cy="795.1" r="2.25" fill="#9c9c9c"/>
<circle cx="571.4" cy="801.9" r="2.25" fill="#9c9c9c"/>
<circle cx="571.4" cy="808.7" r="2.25" fill="#9c9c9c"/>
<circle cx="571.4" cy="815.5" r="2.25" fill="#9c9c9c"/>
<circle cx="571.4" cy="822.3" r="2.25" fill="#9c9c9c"/>
<circle cx="571.4" cy="829.1" r="2.25" fill="#9c9c9c"/>
<circle cx="571.4" cy="835.9" r="2.25" fill="#9c9c9c"/>
<circle cx="571.4" cy="842.7" r="2.25" fill="#9c9c9c"/>
<circle cx="571.4" cy="849.5" r="2.25" fill="#9c9c9c"/>
<line x1="575.7" y1="787.6" x2="575.7" y2="882.7" stroke="#9c9c9c" stroke-width="4.4" stroke-linecap="round"/>
<line x1="618.4" y1="700.0" x2="618.4" y2="827.6" stroke="#9c9c9c" stroke-width="4.4" stroke-linecap="round"/>
<line x1="601.4" y1="765.0" x2="601.4" y2="824.0" stroke="#9c9c9c" stroke-width="4.4" stroke-linecap="round"/>
<line x1="606.4" y1="740.0" x2="606.4" y2="850.0" stroke="#9c9c9c" stroke-width="4.4" stroke-linecap="round"/>
<circle cx="606.4" cy="853.0" r="2.25" fill="#9c9c9c"/>
<circle cx="606.4" cy="856.0" r="2.25" fill="#9c9c9c"/>
<circle cx="606.4" cy="859.4" r="2.25" fill="#9c9c9c"/>
<circle cx="606.4" cy="863.3" r="2.25" fill="#9c9c9c"/>
<circle cx="606.4" cy="867.5" r="2.25" fill="#9c9c9c"/>
<circle cx="606.4" cy="872.2" r="2.25" fill="#9c9c9c"/>
<circle cx="606.4" cy="877.3" r="2.25" fill="#9c9c9c"/>
<circle cx="606.4" cy="882.8" r="2.25" fill="#9c9c9c"/>
<line x1="624.2" y1="752.6" x2="624.2" y2="833.9" stroke="#9c9c9c" stroke-width="4.4" stroke-linecap="round"/>
<line x1="631.4" y1="740.0" x2="631.4" y2="818.9" stroke="#9c9c9c" stroke-width="4.4" stroke-linecap="round"/>
<line x1="620.5" y1="760.0" x2="620.5" y2="826.0" stroke="#9c9c9c" stroke-width="4.4" stroke-linecap="round"/>
<line x1="660.2" y1="673.8" x2="660.2" y2="845.0" stroke="#9c9c9c" stroke-width="4.4" stroke-linecap="round"/>
<line x1="665.3" y1="683.8" x2="665.3" y2="790.0" stroke="#9c9c9c" stroke-width="4.4" stroke-linecap="round"/>
<line x1="673.4" y1="687.5" x2="673.4" y2="800.0" stroke="#9c9c9c" stroke-width="4.4" stroke-linecap="round"/>
<circle cx="673.4" cy="803.0" r="2.25" fill="#9c9c9c"/>
<circle cx="673.4" cy="806.0" r="2.25" fill="#9c9c9c"/>
<circle cx="673.4" cy="809.4" r="2.25" fill="#9c9c9c"/>
<circle cx="673.4" cy="813.3" r="2.25" fill="#9c9c9c"/>
<circle cx="673.4" cy="817.5" r="2.25" fill="#9c9c9c"/>
<circle cx="673.4" cy="822.2" r="2.25" fill="#9c9c9c"/>
<circle cx="673.4" cy="827.3" r="2.25" fill="#9c9c9c"/>
<circle cx="673.4" cy="832.8" r="2.25" fill="#9c9c9c"/>
<circle cx="673.4" cy="838.8" r="2.25" fill="#9c9c9c"/>
<circle cx="673.4" cy="845.1" r="2.25" fill="#9c9c9c"/>
<circle cx="673.4" cy="851.9" r="2.25" fill="#9c9c9c"/>
<circle cx="673.4" cy="858.7" r="2.25" fill="#9c9c9c"/>
<line x1="658.5" y1="700.0" x2="658.5" y2="838.0" stroke="#9c9c9c" stroke-width="4.4" stroke-linecap="round"/>
<line x1="650.1" y1="700.0" x2="650.1" y2="840.0" stroke="#9c9c9c" stroke-width="4.4" stroke-linecap="round"/>
<circle cx="650.1" cy="843.0" r="2.25" fill="#9c9c9c"/>
<circle cx="650.1" cy="846.0" r="2.25" fill="#9c9c9c"/>
<circle cx="650.1" cy="849.4" r="2.25" fill="#9c9c9c"/>
<circle cx="650.1" cy="853.3" r="2.25" fill="#9c9c9c"/>
<circle cx="650.1" cy="857.5" r="2.25" fill="#9c9c9c"/>
<circle cx="650.1" cy="862.2" r="2.25" fill="#9c9c9c"/>
<line x1="648.2" y1="760.0" x2="648.2" y2="850.0" stroke="#9c9c9c" stroke-width="4.4" stroke-linecap="round"/>
<line x1="662.0" y1="760.0" x2="662.0" y2="822.0" stroke="#9c9c9c" stroke-width="4.4" stroke-linecap="round"/>
<line x1="682.5" y1="680.0" x2="682.5" y2="760.0" stroke="#9c9c9c" stroke-width="4.4" stroke-linecap="round"/>
<line x1="688.8" y1="665.0" x2="688.8" y2="785.0" stroke="#9c9c9c" stroke-width="4.4" stroke-linecap="round"/>
<line x1="708.8" y1="677.0" x2="708.8" y2="790.0" stroke="#9c9c9c" stroke-width="4.4" stroke-linecap="round"/>
<circle cx="708.8" cy="793.0" r="2.25" fill="#9c9c9c"/>
<circle cx="708.8" cy="796.0" r="2.25" fill="#9c9c9c"/>
<circle cx="708.8" cy="799.4" r="2.25" fill="#9c9c9c"/>
<circle cx="708.8" cy="803.3" r="2.25" fill="#9c9c9c"/>
<circle cx="708.8" cy="807.5" r="2.25" fill="#9c9c9c"/>
<circle cx="708.8" cy="812.2" r="2.25" fill="#9c9c9c"/>
<circle cx="708.8" cy="817.3" r="2.25" fill="#9c9c9c"/>
<circle cx="708.8" cy="822.8" r="2.25" fill="#9c9c9c"/>
<circle cx="708.8" cy="828.8" r="2.25" fill="#9c9c9c"/>
<line x1="696.3" y1="715.0" x2="696.3" y2="770.0" stroke="#9c9c9c" stroke-width="4.4" stroke-linecap="round"/>
<line x1="717.6" y1="687.5" x2="717.6" y2="795.0" stroke="#9c9c9c" stroke-width="4.4" stroke-linecap="round"/>
<line x1="747.1" y1="733.8" x2="747.1" y2="801.4" stroke="#9c9c9c" stroke-width="4.4" stroke-linecap="round"/>
<line x1="785.1" y1="757.6" x2="785.1" y2="812.6" stroke="#9c9c9c" stroke-width="4.4" stroke-linecap="round"/>
<line x1="793.9" y1="696.3" x2="793.9" y2="797.6" stroke="#9c9c9c" stroke-width="4.4" stroke-linecap="round"/>
<line x1="811.3" y1="712.6" x2="811.3" y2="800.0" stroke="#9c9c9c" stroke-width="4.4" stroke-linecap="round"/>
<circle cx="811.3" cy="803.0" r="2.25" fill="#9c9c9c"/>
<circle cx="811.3" cy="806.0" r="2.25" fill="#9c9c9c"/>
<circle cx="811.3" cy="809.4" r="2.25" fill="#9c9c9c"/>
<circle cx="811.3" cy="813.3" r="2.25" fill="#9c9c9c"/>
<line x1="886.4" y1="688.8" x2="886.4" y2="760.0" stroke="#9c9c9c" stroke-width="4.4" stroke-linecap="round"/>
<circle cx="886.4" cy="763.0" r="2.25" fill="#9c9c9c"/>
<circle cx="886.4" cy="766.0" r="2.25" fill="#9c9c9c"/>
<circle cx="886.4" cy="769.4" r="2.25" fill="#9c9c9c"/>
<circle cx="886.4" cy="773.3" r="2.25" fill="#9c9c9c"/>
<circle cx="886.4" cy="777.5" r="2.25" fill="#9c9c9c"/>
<circle cx="886.4" cy="782.2" r="2.25" fill="#9c9c9c"/>
<circle cx="886.4" cy="787.3" r="2.25" fill="#9c9c9c"/>
<line x1="923.4" y1="685.0" x2="923.4" y2="725.0" stroke="#9c9c9c" stroke-width="4.4" stroke-linecap="round"/>
<line x1="933.1" y1="652.5" x2="933.1" y2="700.0" stroke="#9c9c9c" stroke-width="4.4" stroke-linecap="round"/>
<line x1="941.3" y1="661.3" x2="941.3" y2="756.4" stroke="#9c9c9c" stroke-width="4.4" stroke-linecap="round"/>
<line x1="976.3" y1="650.0" x2="976.3" y2="740.0" stroke="#9c9c9c" stroke-width="4.4" stroke-linecap="round"/>
<circle cx="976.3" cy="743.0" r="2.25" fill="#9c9c9c"/>
<circle cx="976.3" cy="746.0" r="2.25" fill="#9c9c9c"/>
<circle cx="976.3" cy="749.4" r="2.25" fill="#9c9c9c"/>
<circle cx="976.3" cy="753.3" r="2.25" fill="#9c9c9c"/>
<circle cx="976.3" cy="757.5" r="2.25" fill="#9c9c9c"/>
<circle cx="976.3" cy="762.2" r="2.25" fill="#9c9c9c"/>
<circle cx="976.3" cy="767.3" r="2.25" fill="#9c9c9c"/>
<line x1="1017.1" y1="696.3" x2="1017.1" y2="880.0" stroke="#9c9c9c" stroke-width="4.4" stroke-linecap="round"/>
<circle cx="1017.1" cy="883.0" r="2.25" fill="#9c9c9c"/>
<circle cx="1017.1" cy="886.3" r="2.25" fill="#9c9c9c"/>
<circle cx="1017.1" cy="890.1" r="2.25" fill="#9c9c9c"/>
<circle cx="1017.1" cy="894.4" r="2.25" fill="#9c9c9c"/>
<circle cx="1017.1" cy="897.7" r="2.25" fill="#9c9c9c"/>
<circle cx="1017.1" cy="901.5" r="2.25" fill="#9c9c9c"/>
<line x1="1082.7" y1="635.0" x2="1082.7" y2="701.3" stroke="#9c9c9c" stroke-width="4.4" stroke-linecap="round"/>
<line x1="313.00" y1="563.25" x2="313.00" y2="919.50" stroke="#000" stroke-width="2.6" stroke-dasharray="12.75 11" stroke-dashoffset="8.25"/>
<line x1="458.40" y1="563.25" x2="458.40" y2="919.50" stroke="#000" stroke-width="2.6" stroke-dasharray="12.75 11" stroke-dashoffset="8.25"/>
<line x1="790.90" y1="563.25" x2="790.90" y2="919.50" stroke="#000" stroke-width="2.6" stroke-dasharray="12.75 11" stroke-dashoffset="8.25"/>
<line x1="936.25" y1="563.25" x2="936.25" y2="919.50" stroke="#000" stroke-width="2.6" stroke-dasharray="12.75 11" stroke-dashoffset="8.25"/>
<circle cx="785.1" cy="786.4" r="11.1" fill="#F99A9A"/>
<circle cx="810.6" cy="733.8" r="11.1" fill="#B7E4AE"/>
<circle cx="747.1" cy="758.1" r="11.1" fill="#B7E4AE"/>
<circle cx="812.1" cy="778.9" r="11.1" fill="#44ABD2"/>
<circle cx="468.1" cy="750.1" r="11.1" fill="#B7E4AE"/>
<circle cx="687.6" cy="713.8" r="11.1" fill="#B7E4AE"/>
<circle cx="933.1" cy="671.6" r="11.1" fill="#B7E4AE"/>
<circle cx="674.0" cy="725.6" r="11.1" fill="#B7E4AE"/>
<circle cx="618.4" cy="739.6" r="11.1" fill="#B7E4AE"/>
<circle cx="672.6" cy="765.7" r="11.1" fill="#B7E4AE"/>
<circle cx="976.3" cy="690.1" r="11.1" fill="#B7E4AE"/>
<circle cx="696.3" cy="726.3" r="11.1" fill="#B7E4AE"/>
<circle cx="658.0" cy="776.2" r="11.1" fill="#76C680"/>
<circle cx="500.8" cy="717.6" r="11.1" fill="#B7E4AE"/>
<circle cx="649.8" cy="776.4" r="11.1" fill="#B7E4AE"/>
<circle cx="660.9" cy="750.6" r="11.1" fill="#2884BC"/>
<circle cx="1017.1" cy="743.1" r="11.1" fill="#2884BC"/>
<circle cx="539.6" cy="752.1" r="11.1" fill="#44ABD2"/>
<circle cx="706.3" cy="734.6" r="11.1" fill="#44ABD2"/>
<circle cx="659.2" cy="775.9" r="11.1" fill="#44ABD2"/>
<circle cx="660.2" cy="722.6" r="11.1" fill="#44ABD2"/>
<circle cx="622.2" cy="793.1" r="11.1" fill="#44ABD2"/>
<circle cx="575.7" cy="820.6" r="11.1" fill="#B7E4AE"/>
<circle cx="601.4" cy="785.1" r="11.1" fill="#B7E4AE"/>
<circle cx="606.4" cy="780.6" r="11.1" fill="#76C680"/>
<circle cx="650.1" cy="764.6" r="11.1" fill="#76C680"/>
<circle cx="793.9" cy="725.6" r="11.1" fill="#76C680"/>
<circle cx="623.9" cy="773.1" r="11.1" fill="#B7E4AE"/>
<circle cx="519.6" cy="745.1" r="11.1" fill="#76C680"/>
<circle cx="1082.7" cy="658.8" r="11.1" fill="#B7E4AE"/>
<circle cx="923.4" cy="698.8" r="11.1" fill="#B7E4AE"/>
<circle cx="682.5" cy="699.5" r="11.1" fill="#76C680"/>
<circle cx="689.6" cy="694.5" r="11.1" fill="#76C680"/>
<circle cx="886.4" cy="711.3" r="11.1" fill="#76C680"/>
<circle cx="941.3" cy="684.5" r="11.1" fill="#76C680"/>
<circle cx="708.8" cy="693.8" r="11.1" fill="#76C680"/>
<circle cx="666.0" cy="714.6" r="11.1" fill="#F99A9A"/>
<circle cx="571.4" cy="717.1" r="11.1" fill="#EA553B"/>
<circle cx="718.3" cy="730.1" r="11.1" fill="#EA553B"/>
<circle cx="450.6" cy="748.8" r="11.1" fill="#EA553B"/>
<circle cx="631.4" cy="767.1" r="11.1" fill="#F99A9A"/>
<circle cx="398.8" cy="747.6" r="11.1" fill="#F99A9A"/>
<text x="784.6" y="791.4" font-size="14.5" font-weight="bold" font-style="italic" text-anchor="middle" fill="#111">1</text>
<text x="810.1" y="738.8" font-size="14.5" font-weight="bold" font-style="italic" text-anchor="middle" fill="#111">2</text>
<text x="746.6" y="763.1" font-size="14.5" font-weight="bold" font-style="italic" text-anchor="middle" fill="#111">3</text>
<text x="811.6" y="783.9" font-size="14.5" font-weight="bold" font-style="italic" text-anchor="middle" fill="#111">4</text>
<text x="467.6" y="755.1" font-size="14.5" font-weight="bold" font-style="italic" text-anchor="middle" fill="#111">5</text>
<text x="687.1" y="718.8" font-size="14.5" font-weight="bold" font-style="italic" text-anchor="middle" fill="#111">6</text>
<text x="932.6" y="676.6" font-size="14.5" font-weight="bold" font-style="italic" text-anchor="middle" fill="#111">7</text>
<text x="673.5" y="730.6" font-size="14.5" font-weight="bold" font-style="italic" text-anchor="middle" fill="#111">8</text>
<text x="617.9" y="744.6" font-size="14.5" font-weight="bold" font-style="italic" text-anchor="middle" fill="#111">9</text>
<text x="672.1" y="770.7" font-size="14.5" font-weight="bold" font-style="italic" text-anchor="middle" fill="#111">10</text>
<text x="975.8" y="695.1" font-size="14.5" font-weight="bold" font-style="italic" text-anchor="middle" fill="#111">11</text>
<text x="695.8" y="731.3" font-size="14.5" font-weight="bold" font-style="italic" text-anchor="middle" fill="#111">12</text>
<text x="657.5" y="781.2" font-size="14.5" font-weight="bold" font-style="italic" text-anchor="middle" fill="#111">13</text>
<text x="500.3" y="722.6" font-size="14.5" font-weight="bold" font-style="italic" text-anchor="middle" fill="#111">14</text>
<text x="649.3" y="781.4" font-size="14.5" font-weight="bold" font-style="italic" text-anchor="middle" fill="#111">15</text>
<text x="660.4" y="755.6" font-size="14.5" font-weight="bold" font-style="italic" text-anchor="middle" fill="#111">16</text>
<text x="1016.6" y="748.1" font-size="14.5" font-weight="bold" font-style="italic" text-anchor="middle" fill="#111">17</text>
<text x="539.1" y="757.1" font-size="14.5" font-weight="bold" font-style="italic" text-anchor="middle" fill="#111">18</text>
<text x="705.8" y="739.6" font-size="14.5" font-weight="bold" font-style="italic" text-anchor="middle" fill="#111">19</text>
<text x="658.7" y="780.9" font-size="14.5" font-weight="bold" font-style="italic" text-anchor="middle" fill="#111">20</text>
<text x="659.7" y="727.6" font-size="14.5" font-weight="bold" font-style="italic" text-anchor="middle" fill="#111">21</text>
<text x="621.7" y="798.1" font-size="14.5" font-weight="bold" font-style="italic" text-anchor="middle" fill="#111">22</text>
<text x="575.2" y="825.6" font-size="14.5" font-weight="bold" font-style="italic" text-anchor="middle" fill="#111">23</text>
<text x="600.9" y="790.1" font-size="14.5" font-weight="bold" font-style="italic" text-anchor="middle" fill="#111">24</text>
<text x="605.9" y="785.6" font-size="14.5" font-weight="bold" font-style="italic" text-anchor="middle" fill="#111">25</text>
<text x="649.6" y="769.6" font-size="14.5" font-weight="bold" font-style="italic" text-anchor="middle" fill="#111">26</text>
<text x="793.4" y="730.6" font-size="14.5" font-weight="bold" font-style="italic" text-anchor="middle" fill="#111">27</text>
<text x="623.4" y="778.1" font-size="14.5" font-weight="bold" font-style="italic" text-anchor="middle" fill="#111">28</text>
<text x="519.1" y="750.1" font-size="14.5" font-weight="bold" font-style="italic" text-anchor="middle" fill="#111">29</text>
<text x="1082.2" y="663.8" font-size="14.5" font-weight="bold" font-style="italic" text-anchor="middle" fill="#111">30</text>
<text x="922.9" y="703.8" font-size="14.5" font-weight="bold" font-style="italic" text-anchor="middle" fill="#111">31</text>
<text x="682.0" y="704.5" font-size="14.5" font-weight="bold" font-style="italic" text-anchor="middle" fill="#111">32</text>
<text x="689.1" y="699.5" font-size="14.5" font-weight="bold" font-style="italic" text-anchor="middle" fill="#111">33</text>
<text x="885.9" y="716.3" font-size="14.5" font-weight="bold" font-style="italic" text-anchor="middle" fill="#111">34</text>
<text x="940.8" y="689.5" font-size="14.5" font-weight="bold" font-style="italic" text-anchor="middle" fill="#111">35</text>
<text x="708.3" y="698.8" font-size="14.5" font-weight="bold" font-style="italic" text-anchor="middle" fill="#111">36</text>
<text x="665.5" y="719.6" font-size="14.5" font-weight="bold" font-style="italic" text-anchor="middle" fill="#111">37</text>
<text x="570.9" y="722.1" font-size="14.5" font-weight="bold" font-style="italic" text-anchor="middle" fill="#111">38</text>
<text x="717.8" y="735.1" font-size="14.5" font-weight="bold" font-style="italic" text-anchor="middle" fill="#111">39</text>
<text x="450.1" y="753.8" font-size="14.5" font-weight="bold" font-style="italic" text-anchor="middle" fill="#111">40</text>
<text x="630.9" y="772.1" font-size="14.5" font-weight="bold" font-style="italic" text-anchor="middle" fill="#111">41</text>
<text x="398.3" y="752.6" font-size="14.5" font-weight="bold" font-style="italic" text-anchor="middle" fill="#111">42</text>
<line x1="458.40" y1="737.60" x2="790.90" y2="737.60" stroke="#000" stroke-width="4.5" />
<line x1="458.40" y1="729.85" x2="458.40" y2="745.35" stroke="#000" stroke-width="4.5" />
<line x1="790.90" y1="729.85" x2="790.90" y2="745.35" stroke="#000" stroke-width="4.5" />
<line x1="790.90" y1="708.20" x2="936.25" y2="708.20" stroke="#000" stroke-width="4.5" />
<line x1="790.90" y1="700.45" x2="790.90" y2="715.95" stroke="#000" stroke-width="4.5" />
<line x1="936.25" y1="700.45" x2="936.25" y2="715.95" stroke="#000" stroke-width="4.5" />
<line x1="936.25" y1="685.10" x2="1082.70" y2="685.10" stroke="#000" stroke-width="4.5" />
<line x1="936.25" y1="677.35" x2="936.25" y2="692.85" stroke="#000" stroke-width="4.5" />
<line x1="1082.70" y1="677.35" x2="1082.70" y2="692.85" stroke="#000" stroke-width="4.5" />
<rect x="105.25" y="563.25" width="1038.75" height="356.25" fill="none" stroke="#111" stroke-width="1.5"/>
<line x1="105.25" y1="563.25" x2="105.25" y2="552.55" stroke="#111" stroke-width="1.4" />
<line x1="105.25" y1="919.50" x2="105.25" y2="930.20" stroke="#111" stroke-width="1.4" />
<line x1="209.12" y1="563.25" x2="209.12" y2="552.55" stroke="#111" stroke-width="1.4" />
<line x1="209.12" y1="919.50" x2="209.12" y2="930.20" stroke="#111" stroke-width="1.4" />
<line x1="313.00" y1="563.25" x2="313.00" y2="552.55" stroke="#111" stroke-width="1.4" />
<line x1="313.00" y1="919.50" x2="313.00" y2="930.20" stroke="#111" stroke-width="1.4" />
<line x1="416.88" y1="563.25" x2="416.88" y2="552.55" stroke="#111" stroke-width="1.4" />
<line x1="416.88" y1="919.50" x2="416.88" y2="930.20" stroke="#111" stroke-width="1.4" />
<line x1="520.75" y1="563.25" x2="520.75" y2="552.55" stroke="#111" stroke-width="1.4" />
<line x1="520.75" y1="919.50" x2="520.75" y2="930.20" stroke="#111" stroke-width="1.4" />
<line x1="624.62" y1="563.25" x2="624.62" y2="552.55" stroke="#111" stroke-width="1.4" />
<line x1="624.62" y1="919.50" x2="624.62" y2="930.20" stroke="#111" stroke-width="1.4" />
<line x1="728.50" y1="563.25" x2="728.50" y2="552.55" stroke="#111" stroke-width="1.4" />
<line x1="728.50" y1="919.50" x2="728.50" y2="930.20" stroke="#111" stroke-width="1.4" />
<line x1="832.38" y1="563.25" x2="832.38" y2="552.55" stroke="#111" stroke-width="1.4" />
<line x1="832.38" y1="919.50" x2="832.38" y2="930.20" stroke="#111" stroke-width="1.4" />
<line x1="936.25" y1="563.25" x2="936.25" y2="552.55" stroke="#111" stroke-width="1.4" />
<line x1="936.25" y1="919.50" x2="936.25" y2="930.20" stroke="#111" stroke-width="1.4" />
<line x1="1040.12" y1="563.25" x2="1040.12" y2="552.55" stroke="#111" stroke-width="1.4" />
<line x1="1040.12" y1="919.50" x2="1040.12" y2="930.20" stroke="#111" stroke-width="1.4" />
<line x1="1144.00" y1="563.25" x2="1144.00" y2="552.55" stroke="#111" stroke-width="1.4" />
<line x1="1144.00" y1="919.50" x2="1144.00" y2="930.20" stroke="#111" stroke-width="1.4" />
<line x1="105.25" y1="563.25" x2="94.55" y2="563.25" stroke="#111" stroke-width="1.4" />
<line x1="1144.00" y1="563.25" x2="1154.70" y2="563.25" stroke="#111" stroke-width="1.4" />
<text x="87.50" y="572.65" font-size="24" font-weight="bold" font-style="normal" text-anchor="end" fill="#111" >-3.5</text>
<line x1="105.25" y1="614.12" x2="94.55" y2="614.12" stroke="#111" stroke-width="1.4" />
<line x1="1144.00" y1="614.12" x2="1154.70" y2="614.12" stroke="#111" stroke-width="1.4" />
<text x="87.50" y="623.52" font-size="24" font-weight="bold" font-style="normal" text-anchor="end" fill="#111" >-4</text>
<line x1="105.25" y1="665.00" x2="94.55" y2="665.00" stroke="#111" stroke-width="1.4" />
<line x1="1144.00" y1="665.00" x2="1154.70" y2="665.00" stroke="#111" stroke-width="1.4" />
<text x="87.50" y="674.40" font-size="24" font-weight="bold" font-style="normal" text-anchor="end" fill="#111" >-4.5</text>
<line x1="105.25" y1="715.88" x2="94.55" y2="715.88" stroke="#111" stroke-width="1.4" />
<line x1="1144.00" y1="715.88" x2="1154.70" y2="715.88" stroke="#111" stroke-width="1.4" />
<text x="87.50" y="725.27" font-size="24" font-weight="bold" font-style="normal" text-anchor="end" fill="#111" >-5</text>
<line x1="105.25" y1="766.75" x2="94.55" y2="766.75" stroke="#111" stroke-width="1.4" />
<line x1="1144.00" y1="766.75" x2="1154.70" y2="766.75" stroke="#111" stroke-width="1.4" />
<text x="87.50" y="776.15" font-size="24" font-weight="bold" font-style="normal" text-anchor="end" fill="#111" >-5.5</text>
<line x1="105.25" y1="817.62" x2="94.55" y2="817.62" stroke="#111" stroke-width="1.4" />
<line x1="1144.00" y1="817.62" x2="1154.70" y2="817.62" stroke="#111" stroke-width="1.4" />
<text x="87.50" y="827.02" font-size="24" font-weight="bold" font-style="normal" text-anchor="end" fill="#111" >-6</text>
<line x1="105.25" y1="868.50" x2="94.55" y2="868.50" stroke="#111" stroke-width="1.4" />
<line x1="1144.00" y1="868.50" x2="1154.70" y2="868.50" stroke="#111" stroke-width="1.4" />
<text x="87.50" y="877.90" font-size="24" font-weight="bold" font-style="normal" text-anchor="end" fill="#111" >-6.5</text>
<line x1="105.25" y1="919.38" x2="94.55" y2="919.38" stroke="#111" stroke-width="1.4" />
<line x1="1144.00" y1="919.38" x2="1154.70" y2="919.38" stroke="#111" stroke-width="1.4" />
<text x="87.50" y="928.77" font-size="24" font-weight="bold" font-style="normal" text-anchor="end" fill="#111" >-7</text>
<line x1="398.8" y1="1145.1" x2="398.8" y2="1236.4" stroke="#9c9c9c" stroke-width="4.4" stroke-linecap="round"/>
<line x1="450.8" y1="1155.6" x2="450.8" y2="1245.6" stroke="#9c9c9c" stroke-width="4.4" stroke-linecap="round"/>
<line x1="467.6" y1="1102.0" x2="467.6" y2="1173.1" stroke="#9c9c9c" stroke-width="4.4" stroke-linecap="round"/>
<line x1="500.8" y1="1171.3" x2="500.8" y2="1240.6" stroke="#9c9c9c" stroke-width="4.4" stroke-linecap="round"/>
<line x1="519.6" y1="1152.1" x2="519.6" y2="1216.4" stroke="#9c9c9c" stroke-width="4.4" stroke-linecap="round"/>
<line x1="539.6" y1="1150.6" x2="539.6" y2="1250.6" stroke="#9c9c9c" stroke-width="4.4" stroke-linecap="round"/>
<line x1="571.4" y1="1152.6" x2="571.4" y2="1247.6" stroke="#9c9c9c" stroke-width="4.4" stroke-linecap="round"/>
<line x1="575.7" y1="1175.0" x2="575.7" y2="1227.6" stroke="#9c9c9c" stroke-width="4.4" stroke-linecap="round"/>
<line x1="601.9" y1="1150.0" x2="601.9" y2="1260.0" stroke="#9c9c9c" stroke-width="4.4" stroke-linecap="round"/>
<line x1="606.4" y1="1158.8" x2="606.4" y2="1281.4" stroke="#9c9c9c" stroke-width="4.4" stroke-linecap="round"/>
<line x1="618.4" y1="1127.0" x2="618.4" y2="1162.6" stroke="#9c9c9c" stroke-width="4.4" stroke-linecap="round"/>
<line x1="622.4" y1="1173.8" x2="622.4" y2="1265.1" stroke="#9c9c9c" stroke-width="4.4" stroke-linecap="round"/>
<line x1="631.4" y1="1170.0" x2="631.4" y2="1242.6" stroke="#9c9c9c" stroke-width="4.4" stroke-linecap="round"/>
<line x1="624.2" y1="1190.0" x2="624.2" y2="1258.0" stroke="#9c9c9c" stroke-width="4.4" stroke-linecap="round"/>
<line x1="649.8" y1="1138.8" x2="649.8" y2="1255.0" stroke="#9c9c9c" stroke-width="4.4" stroke-linecap="round"/>
<line x1="657.5" y1="1150.0" x2="657.5" y2="1270.0" stroke="#9c9c9c" stroke-width="4.4" stroke-linecap="round"/>
<line x1="665.5" y1="1125.5" x2="665.5" y2="1240.0" stroke="#9c9c9c" stroke-width="4.4" stroke-linecap="round"/>
<line x1="662.3" y1="1160.0" x2="662.3" y2="1275.0" stroke="#9c9c9c" stroke-width="4.4" stroke-linecap="round"/>
<line x1="660.3" y1="1180.0" x2="660.3" y2="1289.0" stroke="#9c9c9c" stroke-width="4.4" stroke-linecap="round"/>
<line x1="673.3" y1="1113.0" x2="673.3" y2="1245.0" stroke="#9c9c9c" stroke-width="4.4" stroke-linecap="round"/>
<line x1="687.0" y1="1115.0" x2="687.0" y2="1235.0" stroke="#9c9c9c" stroke-width="4.4" stroke-linecap="round"/>
<line x1="696.3" y1="1150.0" x2="696.3" y2="1246.0" stroke="#9c9c9c" stroke-width="4.4" stroke-linecap="round"/>
<line x1="707.1" y1="1134.6" x2="707.1" y2="1241.4" stroke="#9c9c9c" stroke-width="4.4" stroke-linecap="round"/>
<line x1="718.3" y1="1126.3" x2="718.3" y2="1237.0" stroke="#9c9c9c" stroke-width="4.4" stroke-linecap="round"/>
<line x1="747.1" y1="1112.0" x2="747.1" y2="1150.0" stroke="#9c9c9c" stroke-width="4.4" stroke-linecap="round"/>
<line x1="785.1" y1="1114.5" x2="785.1" y2="1145.0" stroke="#9c9c9c" stroke-width="4.4" stroke-linecap="round"/>
<line x1="811.3" y1="1112.5" x2="811.3" y2="1182.6" stroke="#9c9c9c" stroke-width="4.4" stroke-linecap="round"/>
<line x1="793.9" y1="1142.6" x2="793.9" y2="1260.2" stroke="#9c9c9c" stroke-width="4.4" stroke-linecap="round"/>
<line x1="886.4" y1="1147.6" x2="886.4" y2="1216.4" stroke="#9c9c9c" stroke-width="4.4" stroke-linecap="round"/>
<line x1="923.4" y1="1140.0" x2="923.4" y2="1165.0" stroke="#9c9c9c" stroke-width="4.4" stroke-linecap="round"/>
<line x1="933.1" y1="1083.8" x2="933.1" y2="1185.0" stroke="#9c9c9c" stroke-width="4.4" stroke-linecap="round"/>
<line x1="941.3" y1="1142.6" x2="941.3" y2="1240.6" stroke="#9c9c9c" stroke-width="4.4" stroke-linecap="round"/>
<line x1="976.3" y1="1157.0" x2="976.3" y2="1238.0" stroke="#9c9c9c" stroke-width="4.4" stroke-linecap="round"/>
<line x1="1017.1" y1="1181.3" x2="1017.1" y2="1281.4" stroke="#9c9c9c" stroke-width="4.4" stroke-linecap="round"/>
<line x1="1082.7" y1="1132.0" x2="1082.7" y2="1219.6" stroke="#9c9c9c" stroke-width="4.4" stroke-linecap="round"/>
<line x1="313.00" y1="972.50" x2="313.00" y2="1328.50" stroke="#000" stroke-width="2.6" stroke-dasharray="12.75 11" stroke-dashoffset="8.25"/>
<line x1="458.40" y1="972.50" x2="458.40" y2="1328.50" stroke="#000" stroke-width="2.6" stroke-dasharray="12.75 11" stroke-dashoffset="8.25"/>
<line x1="790.90" y1="972.50" x2="790.90" y2="1328.50" stroke="#000" stroke-width="2.6" stroke-dasharray="12.75 11" stroke-dashoffset="8.25"/>
<line x1="936.25" y1="972.50" x2="936.25" y2="1328.50" stroke="#000" stroke-width="2.6" stroke-dasharray="12.75 11" stroke-dashoffset="8.25"/>
<circle cx="785.1" cy="1131.3" r="11.1" fill="#F99A9A"/>
<circle cx="810.6" cy="1134.6" r="11.1" fill="#B7E4AE"/>
<circle cx="747.1" cy="1127.6" r="11.1" fill="#B7E4AE"/>
<circle cx="812.1" cy="1140.1" r="11.1" fill="#44ABD2"/>
<circle cx="467.6" cy="1120.5" r="11.1" fill="#B7E4AE"/>
<circle cx="687.6" cy="1148.8" r="11.1" fill="#B7E4AE"/>
<circle cx="933.1" cy="1118.3" r="11.1" fill="#B7E4AE"/>
<circle cx="675.5" cy="1154.6" r="11.1" fill="#B7E4AE"/>
<circle cx="618.4" cy="1141.3" r="11.1" fill="#B7E4AE"/>
<circle cx="671.3" cy="1155.1" r="11.1" fill="#B7E4AE"/>
<circle cx="976.3" cy="1184.6" r="11.1" fill="#B7E4AE"/>
<circle cx="696.3" cy="1183.8" r="11.1" fill="#B7E4AE"/>
<circle cx="658.9" cy="1203.1" r="11.1" fill="#76C680"/>
<circle cx="500.8" cy="1194.6" r="11.1" fill="#B7E4AE"/>
<circle cx="649.6" cy="1187.6" r="11.1" fill="#B7E4AE"/>
<circle cx="660.9" cy="1242.6" r="11.1" fill="#2884BC"/>
<circle cx="1017.1" cy="1218.9" r="11.1" fill="#2884BC"/>
<circle cx="539.6" cy="1197.6" r="11.1" fill="#44ABD2"/>
<circle cx="707.1" cy="1184.3" r="11.1" fill="#44ABD2"/>
<circle cx="657.6" cy="1193.1" r="11.1" fill="#44ABD2"/>
<circle cx="658.9" cy="1177.8" r="11.1" fill="#44ABD2"/>
<circle cx="622.2" cy="1199.6" r="11.1" fill="#44ABD2"/>
<circle cx="575.7" cy="1197.6" r="11.1" fill="#B7E4AE"/>
<circle cx="601.9" cy="1198.9" r="11.1" fill="#B7E4AE"/>
<circle cx="606.4" cy="1211.4" r="11.1" fill="#76C680"/>
<circle cx="649.8" cy="1163.1" r="11.1" fill="#76C680"/>
<circle cx="793.9" cy="1189.6" r="11.1" fill="#76C680"/>
<circle cx="624.4" cy="1223.1" r="11.1" fill="#B7E4AE"/>
<circle cx="519.6" cy="1174.6" r="11.1" fill="#76C680"/>
<circle cx="1082.7" cy="1175.6" r="11.1" fill="#B7E4AE"/>
<circle cx="923.4" cy="1151.3" r="11.1" fill="#B7E4AE"/>
<circle cx="683.8" cy="1133.8" r="11.1" fill="#76C680"/>
<circle cx="688.8" cy="1181.3" r="11.1" fill="#76C680"/>
<circle cx="886.4" cy="1173.8" r="11.1" fill="#76C680"/>
<circle cx="941.3" cy="1174.6" r="11.1" fill="#76C680"/>
<circle cx="708.8" cy="1163.1" r="11.1" fill="#76C680"/>
<circle cx="666.8" cy="1180.6" r="11.1" fill="#F99A9A"/>
<circle cx="571.4" cy="1182.6" r="11.1" fill="#EA553B"/>
<circle cx="718.3" cy="1156.3" r="11.1" fill="#EA553B"/>
<circle cx="450.8" cy="1200.6" r="11.1" fill="#EA553B"/>
<circle cx="631.4" cy="1198.1" r="11.1" fill="#F99A9A"/>
<circle cx="398.8" cy="1185.1" r="11.1" fill="#F99A9A"/>
<text x="784.6" y="1136.3" font-size="14.5" font-weight="bold" font-style="italic" text-anchor="middle" fill="#111">1</text>
<text x="810.1" y="1139.6" font-size="14.5" font-weight="bold" font-style="italic" text-anchor="middle" fill="#111">2</text>
<text x="746.6" y="1132.6" font-size="14.5" font-weight="bold" font-style="italic" text-anchor="middle" fill="#111">3</text>
<text x="811.6" y="1145.1" font-size="14.5" font-weight="bold" font-style="italic" text-anchor="middle" fill="#111">4</text>
<text x="467.1" y="1125.5" font-size="14.5" font-weight="bold" font-style="italic" text-anchor="middle" fill="#111">5</text>
<text x="687.1" y="1153.8" font-size="14.5" font-weight="bold" font-style="italic" text-anchor="middle" fill="#111">6</text>
<text x="932.6" y="1123.3" font-size="14.5" font-weight="bold" font-style="italic" text-anchor="middle" fill="#111">7</text>
<text x="675.0" y="1159.6" font-size="14.5" font-weight="bold" font-style="italic" text-anchor="middle" fill="#111">8</text>
<text x="617.9" y="1146.3" font-size="14.5" font-weight="bold" font-style="italic" text-anchor="middle" fill="#111">9</text>
<text x="670.8" y="1160.1" font-size="14.5" font-weight="bold" font-style="italic" text-anchor="middle" fill="#111">10</text>
<text x="975.8" y="1189.6" font-size="14.5" font-weight="bold" font-style="italic" text-anchor="middle" fill="#111">11</text>
<text x="695.8" y="1188.8" font-size="14.5" font-weight="bold" font-style="italic" text-anchor="middle" fill="#111">12</text>
<text x="658.4" y="1208.1" font-size="14.5" font-weight="bold" font-style="italic" text-anchor="middle" fill="#111">13</text>
<text x="500.3" y="1199.6" font-size="14.5" font-weight="bold" font-style="italic" text-anchor="middle" fill="#111">14</text>
<text x="649.1" y="1192.6" font-size="14.5" font-weight="bold" font-style="italic" text-anchor="middle" fill="#111">15</text>
<text x="660.4" y="1247.6" font-size="14.5" font-weight="bold" font-style="italic" text-anchor="middle" fill="#111">16</text>
<text x="1016.6" y="1223.9" font-size="14.5" font-weight="bold" font-style="italic" text-anchor="middle" fill="#111">17</text>
<text x="539.1" y="1202.6" font-size="14.5" font-weight="bold" font-style="italic" text-anchor="middle" fill="#111">18</text>
<text x="706.6" y="1189.3" font-size="14.5" font-weight="bold" font-style="italic" text-anchor="middle" fill="#111">19</text>
<text x="657.1" y="1198.1" font-size="14.5" font-weight="bold" font-style="italic" text-anchor="middle" fill="#111">20</text>
<text x="658.4" y="1182.8" font-size="14.5" font-weight="bold" font-style="italic" text-anchor="middle" fill="#111">21</text>
<text x="621.7" y="1204.6" font-size="14.5" font-weight="bold" font-style="italic" text-anchor="middle" fill="#111">22</text>
<text x="575.2" y="1202.6" font-size="14.5" font-weight="bold" font-style="italic" text-anchor="middle" fill="#111">23</text>
<text x="601.4" y="1203.9" font-size="14.5" font-weight="bold" font-style="italic" text-anchor="middle" fill="#111">24</text>
<text x="605.9" y="1216.4" font-size="14.5" font-weight="bold" font-style="italic" text-anchor="middle" fill="#111">25</text>
<text x="649.3" y="1168.1" font-size="14.5" font-weight="bold" font-style="italic" text-anchor="middle" fill="#111">26</text>
<text x="793.4" y="1194.6" font-size="14.5" font-weight="bold" font-style="italic" text-anchor="middle" fill="#111">27</text>
<text x="623.9" y="1228.1" font-size="14.5" font-weight="bold" font-style="italic" text-anchor="middle" fill="#111">28</text>
<text x="519.1" y="1179.6" font-size="14.5" font-weight="bold" font-style="italic" text-anchor="middle" fill="#111">29</text>
<text x="1082.2" y="1180.6" font-size="14.5" font-weight="bold" font-style="italic" text-anchor="middle" fill="#111">30</text>
<text x="922.9" y="1156.3" font-size="14.5" font-weight="bold" font-style="italic" text-anchor="middle" fill="#111">31</text>
<text x="683.3" y="1138.8" font-size="14.5" font-weight="bold" font-style="italic" text-anchor="middle" fill="#111">32</text>
<text x="688.3" y="1186.3" font-size="14.5" font-weight="bold" font-style="italic" text-anchor="middle" fill="#111">33</text>
<text x="885.9" y="1178.8" font-size="14.5" font-weight="bold" font-style="italic" text-anchor="middle" fill="#111">34</text>
<text x="940.8" y="1179.6" font-size="14.5" font-weight="bold" font-style="italic" text-anchor="middle" fill="#111">35</text>
<text x="708.3" y="1168.1" font-size="14.5" font-weight="bold" font-style="italic" text-anchor="middle" fill="#111">36</text>
<text x="666.3" y="1185.6" font-size="14.5" font-weight="bold" font-style="italic" text-anchor="middle" fill="#111">37</text>
<text x="570.9" y="1187.6" font-size="14.5" font-weight="bold" font-style="italic" text-anchor="middle" fill="#111">38</text>
<text x="717.8" y="1161.3" font-size="14.5" font-weight="bold" font-style="italic" text-anchor="middle" fill="#111">39</text>
<text x="450.3" y="1205.6" font-size="14.5" font-weight="bold" font-style="italic" text-anchor="middle" fill="#111">40</text>
<text x="630.9" y="1203.1" font-size="14.5" font-weight="bold" font-style="italic" text-anchor="middle" fill="#111">41</text>
<text x="398.3" y="1190.1" font-size="14.5" font-weight="bold" font-style="italic" text-anchor="middle" fill="#111">42</text>
<line x1="458.40" y1="1167.60" x2="790.90" y2="1167.60" stroke="#000" stroke-width="4.5" />
<line x1="458.40" y1="1159.85" x2="458.40" y2="1175.35" stroke="#000" stroke-width="4.5" />
<line x1="790.90" y1="1159.85" x2="790.90" y2="1175.35" stroke="#000" stroke-width="4.5" />
<line x1="790.90" y1="1145.60" x2="936.25" y2="1145.60" stroke="#000" stroke-width="4.5" />
<line x1="790.90" y1="1137.85" x2="790.90" y2="1153.35" stroke="#000" stroke-width="4.5" />
<line x1="936.25" y1="1137.85" x2="936.25" y2="1153.35" stroke="#000" stroke-width="4.5" />
<line x1="936.25" y1="1185.10" x2="1082.70" y2="1185.10" stroke="#000" stroke-width="4.5" />
<line x1="936.25" y1="1177.35" x2="936.25" y2="1192.85" stroke="#000" stroke-width="4.5" />
<line x1="1082.70" y1="1177.35" x2="1082.70" y2="1192.85" stroke="#000" stroke-width="4.5" />
<rect x="105.25" y="972.5" width="1038.75" height="356.0" fill="none" stroke="#111" stroke-width="1.5"/>
<line x1="105.25" y1="972.50" x2="105.25" y2="961.80" stroke="#111" stroke-width="1.4" />
<line x1="105.25" y1="1328.50" x2="105.25" y2="1339.20" stroke="#111" stroke-width="1.4" />
<line x1="209.12" y1="972.50" x2="209.12" y2="961.80" stroke="#111" stroke-width="1.4" />
<line x1="209.12" y1="1328.50" x2="209.12" y2="1339.20" stroke="#111" stroke-width="1.4" />
<line x1="313.00" y1="972.50" x2="313.00" y2="961.80" stroke="#111" stroke-width="1.4" />
<line x1="313.00" y1="1328.50" x2="313.00" y2="1339.20" stroke="#111" stroke-width="1.4" />
<line x1="416.88" y1="972.50" x2="416.88" y2="961.80" stroke="#111" stroke-width="1.4" />
<line x1="416.88" y1="1328.50" x2="416.88" y2="1339.20" stroke="#111" stroke-width="1.4" />
<line x1="520.75" y1="972.50" x2="520.75" y2="961.80" stroke="#111" stroke-width="1.4" />
<line x1="520.75" y1="1328.50" x2="520.75" y2="1339.20" stroke="#111" stroke-width="1.4" />
<line x1="624.62" y1="972.50" x2="624.62" y2="961.80" stroke="#111" stroke-width="1.4" />
<line x1="624.62" y1="1328.50" x2="624.62" y2="1339.20" stroke="#111" stroke-width="1.4" />
<line x1="728.50" y1="972.50" x2="728.50" y2="961.80" stroke="#111" stroke-width="1.4" />
<line x1="728.50" y1="1328.50" x2="728.50" y2="1339.20" stroke="#111" stroke-width="1.4" />
<line x1="832.38" y1="972.50" x2="832.38" y2="961.80" stroke="#111" stroke-width="1.4" />
<line x1="832.38" y1="1328.50" x2="832.38" y2="1339.20" stroke="#111" stroke-width="1.4" />
<line x1="936.25" y1="972.50" x2="936.25" y2="961.80" stroke="#111" stroke-width="1.4" />
<line x1="936.25" y1="1328.50" x2="936.25" y2="1339.20" stroke="#111" stroke-width="1.4" />
<line x1="1040.12" y1="972.50" x2="1040.12" y2="961.80" stroke="#111" stroke-width="1.4" />
<line x1="1040.12" y1="1328.50" x2="1040.12" y2="1339.20" stroke="#111" stroke-width="1.4" />
<line x1="1144.00" y1="972.50" x2="1144.00" y2="961.80" stroke="#111" stroke-width="1.4" />
<line x1="1144.00" y1="1328.50" x2="1144.00" y2="1339.20" stroke="#111" stroke-width="1.4" />
<line x1="105.25" y1="972.50" x2="94.55" y2="972.50" stroke="#111" stroke-width="1.4" />
<line x1="1144.00" y1="972.50" x2="1154.70" y2="972.50" stroke="#111" stroke-width="1.4" />
<text x="87.50" y="981.90" font-size="24" font-weight="bold" font-style="normal" text-anchor="end" fill="#111" >-3.5</text>
<line x1="105.25" y1="1023.38" x2="94.55" y2="1023.38" stroke="#111" stroke-width="1.4" />
<line x1="1144.00" y1="1023.38" x2="1154.70" y2="1023.38" stroke="#111" stroke-width="1.4" />
<text x="87.50" y="1032.78" font-size="24" font-weight="bold" font-style="normal" text-anchor="end" fill="#111" >-4</text>
<line x1="105.25" y1="1074.25" x2="94.55" y2="1074.25" stroke="#111" stroke-width="1.4" />
<line x1="1144.00" y1="1074.25" x2="1154.70" y2="1074.25" stroke="#111" stroke-width="1.4" />
<text x="87.50" y="1083.65" font-size="24" font-weight="bold" font-style="normal" text-anchor="end" fill="#111" >-4.5</text>
<line x1="105.25" y1="1125.12" x2="94.55" y2="1125.12" stroke="#111" stroke-width="1.4" />
<line x1="1144.00" y1="1125.12" x2="1154.70" y2="1125.12" stroke="#111" stroke-width="1.4" />
<text x="87.50" y="1134.53" font-size="24" font-weight="bold" font-style="normal" text-anchor="end" fill="#111" >-5</text>
<line x1="105.25" y1="1176.00" x2="94.55" y2="1176.00" stroke="#111" stroke-width="1.4" />
<line x1="1144.00" y1="1176.00" x2="1154.70" y2="1176.00" stroke="#111" stroke-width="1.4" />
<text x="87.50" y="1185.40" font-size="24" font-weight="bold" font-style="normal" text-anchor="end" fill="#111" >-5.5</text>
<line x1="105.25" y1="1226.88" x2="94.55" y2="1226.88" stroke="#111" stroke-width="1.4" />
<line x1="1144.00" y1="1226.88" x2="1154.70" y2="1226.88" stroke="#111" stroke-width="1.4" />
<text x="87.50" y="1236.28" font-size="24" font-weight="bold" font-style="normal" text-anchor="end" fill="#111" >-6</text>
<line x1="105.25" y1="1277.75" x2="94.55" y2="1277.75" stroke="#111" stroke-width="1.4" />
<line x1="1144.00" y1="1277.75" x2="1154.70" y2="1277.75" stroke="#111" stroke-width="1.4" />
<text x="87.50" y="1287.15" font-size="24" font-weight="bold" font-style="normal" text-anchor="end" fill="#111" >-6.5</text>
<line x1="105.25" y1="1328.62" x2="94.55" y2="1328.62" stroke="#111" stroke-width="1.4" />
<line x1="1144.00" y1="1328.62" x2="1154.70" y2="1328.62" stroke="#111" stroke-width="1.4" />
<text x="87.50" y="1338.03" font-size="24" font-weight="bold" font-style="normal" text-anchor="end" fill="#111" >-7</text>
<text x="105.25" y="1368.20" font-size="24" font-weight="bold" font-style="normal" text-anchor="middle" fill="#111" >-150</text>
<text x="209.12" y="1368.20" font-size="24" font-weight="bold" font-style="normal" text-anchor="middle" fill="#111" >-82.5</text>
<text x="313.00" y="1368.20" font-size="24" font-weight="bold" font-style="normal" text-anchor="middle" fill="#111" >-15</text>
<text x="416.88" y="1368.20" font-size="24" font-weight="bold" font-style="normal" text-anchor="middle" fill="#111" >-10</text>
<text x="520.75" y="1368.20" font-size="24" font-weight="bold" font-style="normal" text-anchor="middle" fill="#111" >-5</text>
<text x="624.62" y="1368.20" font-size="24" font-weight="bold" font-style="normal" text-anchor="middle" fill="#111" >0</text>
<text x="728.50" y="1368.20" font-size="24" font-weight="bold" font-style="normal" text-anchor="middle" fill="#111" >5</text>
<text x="832.38" y="1368.20" font-size="24" font-weight="bold" font-style="normal" text-anchor="middle" fill="#111" >10</text>
<text x="936.25" y="1368.20" font-size="24" font-weight="bold" font-style="normal" text-anchor="middle" fill="#111" >15</text>
<text x="1040.12" y="1368.20" font-size="24" font-weight="bold" font-style="normal" text-anchor="middle" fill="#111" >82.5</text>
<text x="1144.00" y="1368.20" font-size="24" font-weight="bold" font-style="normal" text-anchor="middle" fill="#111" >150</text>
<text x="348.62" y="586.00" font-size="21.5" font-weight="bold" fill="#111" xml:space="preserve" textLength="74.2" lengthAdjust="spacingAndGlyphs">-15 ~ -8</text>
<text x="349.12" y="605.80" font-size="21.0" font-weight="bold" fill="#111" xml:space="preserve" textLength="73.2" lengthAdjust="spacingAndGlyphs">(2 / 722)</text>
<text x="597.35" y="586.00" font-size="21.5" font-weight="bold" fill="#111" xml:space="preserve" textLength="54.5" lengthAdjust="spacingAndGlyphs">-8 ~ 8</text>
<text x="572.10" y="605.80" font-size="21.0" font-weight="bold" fill="#111" xml:space="preserve" textLength="105.0" lengthAdjust="spacingAndGlyphs">(30 / 10134)</text>
<text x="836.00" y="586.00" font-size="21.5" font-weight="bold" fill="#111" xml:space="preserve" textLength="55.0" lengthAdjust="spacingAndGlyphs">8 ~ 15</text>
<text x="822.00" y="605.80" font-size="21.0" font-weight="bold" fill="#111" xml:space="preserve" textLength="83.0" lengthAdjust="spacingAndGlyphs">(6 / 1422)</text>
<text x="1000.00" y="586.00" font-size="21.5" font-weight="bold" fill="#111" xml:space="preserve" textLength="81.0" lengthAdjust="spacingAndGlyphs">15 ~ 150</text>
<text x="998.50" y="605.80" font-size="21.0" font-weight="bold" fill="#111" xml:space="preserve" textLength="84.0" lengthAdjust="spacingAndGlyphs">(4 / 1852)</text>
<text x="348.62" y="995.20" font-size="21.5" font-weight="bold" fill="#111" xml:space="preserve" textLength="74.2" lengthAdjust="spacingAndGlyphs">-15 ~ -8</text>
<text x="349.12" y="1015.00" font-size="21.0" font-weight="bold" fill="#111" xml:space="preserve" textLength="73.2" lengthAdjust="spacingAndGlyphs">(2 / 722)</text>
<text x="597.35" y="995.20" font-size="21.5" font-weight="bold" fill="#111" xml:space="preserve" textLength="54.5" lengthAdjust="spacingAndGlyphs">-8 ~ 8</text>
<text x="572.10" y="1015.00" font-size="21.0" font-weight="bold" fill="#111" xml:space="preserve" textLength="105.0" lengthAdjust="spacingAndGlyphs">(30 / 10134)</text>
<text x="836.00" y="995.20" font-size="21.5" font-weight="bold" fill="#111" xml:space="preserve" textLength="55.0" lengthAdjust="spacingAndGlyphs">8 ~ 15</text>
<text x="822.00" y="1015.00" font-size="21.0" font-weight="bold" fill="#111" xml:space="preserve" textLength="83.0" lengthAdjust="spacingAndGlyphs">(6 / 1422)</text>
<text x="1000.00" y="995.20" font-size="21.5" font-weight="bold" fill="#111" xml:space="preserve" textLength="81.0" lengthAdjust="spacingAndGlyphs">15 ~ 150</text>
<text x="998.50" y="1015.00" font-size="21.0" font-weight="bold" fill="#111" xml:space="preserve" textLength="84.0" lengthAdjust="spacingAndGlyphs">(4 / 1852)</text>
<text x="624.8" y="556.30" font-size="26.5" font-weight="bold" fill="#111" text-anchor="middle" xml:space="preserve">80 - 170 m</text>
<text x="624.8" y="964.70" font-size="26.5" font-weight="bold" fill="#111" text-anchor="middle" xml:space="preserve">190 - 330 m</text>
<text x="114.00" y="624.50" font-size="27.5" font-weight="bold" font-style="normal" text-anchor="start" fill="#111" >c</text>
<text x="114.00" y="1033.70" font-size="27.5" font-weight="bold" font-style="normal" text-anchor="start" fill="#111" >d</text>
<text x="475.30" y="1405.80" font-size="26.3" font-weight="bold" text-anchor="start" fill="#111" xml:space="preserve" textLength="299" lengthAdjust="spacingAndGlyphs">Forcing Curl× 10<tspan dy="-13.9" font-size="18.4">7</tspan><tspan dy="13.9"> (N m</tspan><tspan dy="-13.9" font-size="18.4">-3</tspan><tspan dy="13.9">)</tspan></text>
<text transform="translate(29.3,742.7) rotate(-90)" font-size="26.7" font-weight="bold" text-anchor="middle" fill="#111" xml:space="preserve">log<tspan dy="13.2" font-size="18">10</tspan><tspan dy="-13.2"> [S</tspan><tspan dy="-13.4" font-size="19.5">2</tspan><tspan dy="13.4">( s</tspan><tspan dy="-13.4" font-size="19.5">-2</tspan><tspan dy="13.4">)]</tspan></text>
<text transform="translate(29.3,1151.9) rotate(-90)" font-size="26.7" font-weight="bold" text-anchor="middle" fill="#111" xml:space="preserve">log<tspan dy="13.2" font-size="18">10</tspan><tspan dy="-13.2"> [S</tspan><tspan dy="-13.4" font-size="19.5">2</tspan><tspan dy="13.4">( s</tspan><tspan dy="-13.4" font-size="19.5">-2</tspan><tspan dy="13.4">)]</tspan></text>
<rect x="1172.7" y="563.90" width="20.4" height="59.58" fill="#EA553B"/>
<rect x="1172.7" y="623.18" width="20.4" height="59.58" fill="#F99A9A"/>
<rect x="1172.7" y="682.47" width="20.4" height="59.58" fill="#76C680"/>
<rect x="1172.7" y="741.75" width="20.4" height="59.58" fill="#B7E4AE"/>
<rect x="1172.7" y="801.03" width="20.4" height="59.58" fill="#44ABD2"/>
<rect x="1172.7" y="860.32" width="20.4" height="59.58" fill="#2884BC"/>
<rect x="1172.7" y="563.90" width="20.4" height="355.70" fill="none" stroke="#777" stroke-width="0.7"/>
<line x1="1190.50" y1="563.90" x2="1193.10" y2="563.90" stroke="#333" stroke-width="0.8" />
<text x="1199.70" y="571.60" font-size="20.5" font-weight="bold" font-style="normal" text-anchor="start" fill="#111" >0.3</text>
<line x1="1190.50" y1="623.18" x2="1193.10" y2="623.18" stroke="#333" stroke-width="0.8" />
<text x="1199.70" y="630.88" font-size="20.5" font-weight="bold" font-style="normal" text-anchor="start" fill="#111" >0.2</text>
<line x1="1190.50" y1="682.47" x2="1193.10" y2="682.47" stroke="#333" stroke-width="0.8" />
<text x="1199.70" y="690.17" font-size="20.5" font-weight="bold" font-style="normal" text-anchor="start" fill="#111" >0.1</text>
<line x1="1190.50" y1="741.75" x2="1193.10" y2="741.75" stroke="#333" stroke-width="0.8" />
<text x="1199.70" y="749.45" font-size="20.5" font-weight="bold" font-style="normal" text-anchor="start" fill="#111" >0</text>
<line x1="1190.50" y1="801.03" x2="1193.10" y2="801.03" stroke="#333" stroke-width="0.8" />
<text x="1199.70" y="808.73" font-size="20.5" font-weight="bold" font-style="normal" text-anchor="start" fill="#111" >-0.1</text>
<line x1="1190.50" y1="860.32" x2="1193.10" y2="860.32" stroke="#333" stroke-width="0.8" />
<text x="1199.70" y="868.02" font-size="20.5" font-weight="bold" font-style="normal" text-anchor="start" fill="#111" >-0.2</text>
<line x1="1190.50" y1="919.60" x2="1193.10" y2="919.60" stroke="#333" stroke-width="0.8" />
<text x="1199.70" y="927.30" font-size="20.5" font-weight="bold" font-style="normal" text-anchor="start" fill="#111" >-0.3</text>
<text transform="translate(1254.4,741.2) rotate(-90)" font-size="20.8" font-weight="bold" text-anchor="middle" fill="#111">SLA (m)</text>
<rect x="1172.7" y="973.10" width="20.4" height="59.58" fill="#EA553B"/>
<rect x="1172.7" y="1032.38" width="20.4" height="59.58" fill="#F99A9A"/>
<rect x="1172.7" y="1091.67" width="20.4" height="59.58" fill="#76C680"/>
<rect x="1172.7" y="1150.95" width="20.4" height="59.58" fill="#B7E4AE"/>
<rect x="1172.7" y="1210.23" width="20.4" height="59.58" fill="#44ABD2"/>
<rect x="1172.7" y="1269.52" width="20.4" height="59.58" fill="#2884BC"/>
<rect x="1172.7" y="973.10" width="20.4" height="355.70" fill="none" stroke="#777" stroke-width="0.7"/>
<line x1="1190.50" y1="973.10" x2="1193.10" y2="973.10" stroke="#333" stroke-width="0.8" />
<text x="1199.70" y="980.80" font-size="20.5" font-weight="bold" font-style="normal" text-anchor="start" fill="#111" >0.3</text>
<line x1="1190.50" y1="1032.38" x2="1193.10" y2="1032.38" stroke="#333" stroke-width="0.8" />
<text x="1199.70" y="1040.08" font-size="20.5" font-weight="bold" font-style="normal" text-anchor="start" fill="#111" >0.2</text>
<line x1="1190.50" y1="1091.67" x2="1193.10" y2="1091.67" stroke="#333" stroke-width="0.8" />
<text x="1199.70" y="1099.37" font-size="20.5" font-weight="bold" font-style="normal" text-anchor="start" fill="#111" >0.1</text>
<line x1="1190.50" y1="1150.95" x2="1193.10" y2="1150.95" stroke="#333" stroke-width="0.8" />
<text x="1199.70" y="1158.65" font-size="20.5" font-weight="bold" font-style="normal" text-anchor="start" fill="#111" >0</text>
<line x1="1190.50" y1="1210.23" x2="1193.10" y2="1210.23" stroke="#333" stroke-width="0.8" />
<text x="1199.70" y="1217.93" font-size="20.5" font-weight="bold" font-style="normal" text-anchor="start" fill="#111" >-0.1</text>
<line x1="1190.50" y1="1269.52" x2="1193.10" y2="1269.52" stroke="#333" stroke-width="0.8" />
<text x="1199.70" y="1277.22" font-size="20.5" font-weight="bold" font-style="normal" text-anchor="start" fill="#111" >-0.2</text>
<line x1="1190.50" y1="1328.80" x2="1193.10" y2="1328.80" stroke="#333" stroke-width="0.8" />
<text x="1199.70" y="1336.50" font-size="20.5" font-weight="bold" font-style="normal" text-anchor="start" fill="#111" >-0.3</text>
<text transform="translate(1254.4,1150.5) rotate(-90)" font-size="20.8" font-weight="bold" text-anchor="middle" fill="#111">SLA (m)</text>
<line x1="206.3" y1="1558.0" x2="206.3" y2="1672.6" stroke="#9c9c9c" stroke-width="4.4" stroke-linecap="round"/>
<circle cx="206.3" cy="1675.6" r="2.25" fill="#9c9c9c"/>
<circle cx="206.3" cy="1678.6" r="2.25" fill="#9c9c9c"/>
<circle cx="206.3" cy="1682.0" r="2.25" fill="#9c9c9c"/>
<circle cx="206.3" cy="1685.9" r="2.25" fill="#9c9c9c"/>
<circle cx="206.3" cy="1690.1" r="2.25" fill="#9c9c9c"/>
<circle cx="206.3" cy="1694.8" r="2.25" fill="#9c9c9c"/>
<circle cx="206.3" cy="1699.9" r="2.25" fill="#9c9c9c"/>
<circle cx="206.3" cy="1705.4" r="2.25" fill="#9c9c9c"/>
<line x1="364.6" y1="1546.3" x2="364.6" y2="1705.0" stroke="#9c9c9c" stroke-width="4.4" stroke-linecap="round"/>
<circle cx="364.6" cy="1708.0" r="2.25" fill="#9c9c9c"/>
<circle cx="364.6" cy="1711.3" r="2.25" fill="#9c9c9c"/>
<circle cx="364.6" cy="1715.1" r="2.25" fill="#9c9c9c"/>
<circle cx="364.6" cy="1719.4" r="2.25" fill="#9c9c9c"/>
<circle cx="364.6" cy="1722.7" r="2.25" fill="#9c9c9c"/>
<circle cx="364.6" cy="1726.5" r="2.25" fill="#9c9c9c"/>
<circle cx="364.6" cy="1730.8" r="2.25" fill="#9c9c9c"/>
<circle cx="364.6" cy="1734.1" r="2.25" fill="#9c9c9c"/>
<circle cx="364.6" cy="1737.9" r="2.25" fill="#9c9c9c"/>
<circle cx="364.6" cy="1742.2" r="2.25" fill="#9c9c9c"/>
<circle cx="364.6" cy="1745.5" r="2.25" fill="#9c9c9c"/>
<circle cx="364.6" cy="1749.3" r="2.25" fill="#9c9c9c"/>
<circle cx="364.6" cy="1753.6" r="2.25" fill="#9c9c9c"/>
<circle cx="364.6" cy="1756.9" r="2.25" fill="#9c9c9c"/>
<circle cx="364.6" cy="1760.7" r="2.25" fill="#9c9c9c"/>
<circle cx="364.6" cy="1765.0" r="2.25" fill="#9c9c9c"/>
<circle cx="364.6" cy="1768.3" r="2.25" fill="#9c9c9c"/>
<circle cx="364.6" cy="1772.1" r="2.25" fill="#9c9c9c"/>
<line x1="381.4" y1="1567.0" x2="381.4" y2="1694.6" stroke="#9c9c9c" stroke-width="4.4" stroke-linecap="round"/>
<line x1="412.7" y1="1562.5" x2="412.7" y2="1660.0" stroke="#9c9c9c" stroke-width="4.4" stroke-linecap="round"/>
<circle cx="412.7" cy="1663.0" r="2.25" fill="#9c9c9c"/>
<circle cx="412.7" cy="1666.0" r="2.25" fill="#9c9c9c"/>
<circle cx="412.7" cy="1669.4" r="2.25" fill="#9c9c9c"/>
<circle cx="412.7" cy="1673.3" r="2.25" fill="#9c9c9c"/>
<circle cx="412.7" cy="1677.5" r="2.25" fill="#9c9c9c"/>
<circle cx="412.7" cy="1682.2" r="2.25" fill="#9c9c9c"/>
<circle cx="412.7" cy="1687.3" r="2.25" fill="#9c9c9c"/>
<circle cx="412.7" cy="1692.8" r="2.25" fill="#9c9c9c"/>
<circle cx="412.7" cy="1698.8" r="2.25" fill="#9c9c9c"/>
<circle cx="412.7" cy="1705.1" r="2.25" fill="#9c9c9c"/>
<circle cx="412.7" cy="1711.9" r="2.25" fill="#9c9c9c"/>
<circle cx="412.7" cy="1718.7" r="2.25" fill="#9c9c9c"/>
<circle cx="412.7" cy="1725.5" r="2.25" fill="#9c9c9c"/>
<circle cx="412.7" cy="1732.3" r="2.25" fill="#9c9c9c"/>
<circle cx="412.7" cy="1739.1" r="2.25" fill="#9c9c9c"/>
<circle cx="412.7" cy="1745.9" r="2.25" fill="#9c9c9c"/>
<circle cx="412.7" cy="1752.7" r="2.25" fill="#9c9c9c"/>
<line x1="418.2" y1="1580.0" x2="418.2" y2="1694.0" stroke="#9c9c9c" stroke-width="4.4" stroke-linecap="round"/>
<circle cx="418.2" cy="1697.0" r="2.25" fill="#9c9c9c"/>
<circle cx="418.2" cy="1700.0" r="2.25" fill="#9c9c9c"/>
<circle cx="418.2" cy="1703.4" r="2.25" fill="#9c9c9c"/>
<circle cx="418.2" cy="1707.3" r="2.25" fill="#9c9c9c"/>
<circle cx="418.2" cy="1711.5" r="2.25" fill="#9c9c9c"/>
<circle cx="418.2" cy="1716.2" r="2.25" fill="#9c9c9c"/>
<circle cx="418.2" cy="1721.3" r="2.25" fill="#9c9c9c"/>
<circle cx="418.2" cy="1726.8" r="2.25" fill="#9c9c9c"/>
<circle cx="418.2" cy="1732.8" r="2.25" fill="#9c9c9c"/>
<circle cx="418.2" cy="1739.1" r="2.25" fill="#9c9c9c"/>
<circle cx="418.2" cy="1745.9" r="2.25" fill="#9c9c9c"/>
<circle cx="418.2" cy="1752.7" r="2.25" fill="#9c9c9c"/>
<circle cx="418.2" cy="1759.5" r="2.25" fill="#9c9c9c"/>
<line x1="435.7" y1="1567.0" x2="435.7" y2="1700.0" stroke="#9c9c9c" stroke-width="4.4" stroke-linecap="round"/>
<circle cx="435.7" cy="1703.0" r="2.25" fill="#9c9c9c"/>
<circle cx="435.7" cy="1706.0" r="2.25" fill="#9c9c9c"/>
<circle cx="435.7" cy="1709.4" r="2.25" fill="#9c9c9c"/>
<circle cx="435.7" cy="1713.3" r="2.25" fill="#9c9c9c"/>
<circle cx="435.7" cy="1717.5" r="2.25" fill="#9c9c9c"/>
<circle cx="435.7" cy="1722.2" r="2.25" fill="#9c9c9c"/>
<circle cx="435.7" cy="1727.3" r="2.25" fill="#9c9c9c"/>
<line x1="451.0" y1="1617.6" x2="451.0" y2="1717.7" stroke="#9c9c9c" stroke-width="4.4" stroke-linecap="round"/>
<circle cx="451.0" cy="1720.7" r="2.25" fill="#9c9c9c"/>
<circle cx="451.0" cy="1723.7" r="2.25" fill="#9c9c9c"/>
<circle cx="451.0" cy="1727.1" r="2.25" fill="#9c9c9c"/>
<circle cx="451.0" cy="1731.0" r="2.25" fill="#9c9c9c"/>
<circle cx="451.0" cy="1735.2" r="2.25" fill="#9c9c9c"/>
<circle cx="451.0" cy="1739.9" r="2.25" fill="#9c9c9c"/>
<line x1="481.0" y1="1602.6" x2="481.0" y2="1729.0" stroke="#9c9c9c" stroke-width="4.4" stroke-linecap="round"/>
<line x1="512.0" y1="1537.5" x2="512.0" y2="1605.0" stroke="#9c9c9c" stroke-width="4.4" stroke-linecap="round"/>
<line x1="509.7" y1="1592.5" x2="509.7" y2="1703.9" stroke="#9c9c9c" stroke-width="4.4" stroke-linecap="round"/>
<line x1="522.0" y1="1577.6" x2="522.0" y2="1695.0" stroke="#9c9c9c" stroke-width="4.4" stroke-linecap="round"/>
<circle cx="522.0" cy="1698.0" r="2.25" fill="#9c9c9c"/>
<circle cx="522.0" cy="1701.0" r="2.25" fill="#9c9c9c"/>
<circle cx="522.0" cy="1704.4" r="2.25" fill="#9c9c9c"/>
<circle cx="522.0" cy="1708.3" r="2.25" fill="#9c9c9c"/>
<circle cx="522.0" cy="1712.5" r="2.25" fill="#9c9c9c"/>
<circle cx="522.0" cy="1717.2" r="2.25" fill="#9c9c9c"/>
<circle cx="522.0" cy="1722.3" r="2.25" fill="#9c9c9c"/>
<circle cx="522.0" cy="1727.8" r="2.25" fill="#9c9c9c"/>
<circle cx="522.0" cy="1733.8" r="2.25" fill="#9c9c9c"/>
<line x1="528.0" y1="1637.6" x2="528.0" y2="1750.0" stroke="#9c9c9c" stroke-width="4.4" stroke-linecap="round"/>
<circle cx="528.0" cy="1753.0" r="2.25" fill="#9c9c9c"/>
<circle cx="528.0" cy="1756.0" r="2.25" fill="#9c9c9c"/>
<circle cx="528.0" cy="1759.4" r="2.25" fill="#9c9c9c"/>
<circle cx="528.0" cy="1763.3" r="2.25" fill="#9c9c9c"/>
<circle cx="528.0" cy="1767.5" r="2.25" fill="#9c9c9c"/>
<circle cx="528.0" cy="1772.2" r="2.25" fill="#9c9c9c"/>
<circle cx="528.0" cy="1777.3" r="2.25" fill="#9c9c9c"/>
<circle cx="528.0" cy="1782.8" r="2.25" fill="#9c9c9c"/>
<line x1="548.3" y1="1601.3" x2="548.3" y2="1709.0" stroke="#9c9c9c" stroke-width="4.4" stroke-linecap="round"/>
<line x1="571.3" y1="1560.0" x2="571.3" y2="1650.0" stroke="#9c9c9c" stroke-width="4.4" stroke-linecap="round"/>
<circle cx="571.3" cy="1653.0" r="2.25" fill="#9c9c9c"/>
<circle cx="571.3" cy="1656.0" r="2.25" fill="#9c9c9c"/>
<circle cx="571.3" cy="1659.4" r="2.25" fill="#9c9c9c"/>
<circle cx="571.3" cy="1663.3" r="2.25" fill="#9c9c9c"/>
<circle cx="571.3" cy="1667.5" r="2.25" fill="#9c9c9c"/>
<circle cx="571.3" cy="1672.2" r="2.25" fill="#9c9c9c"/>
<circle cx="571.3" cy="1677.3" r="2.25" fill="#9c9c9c"/>
<circle cx="571.3" cy="1682.8" r="2.25" fill="#9c9c9c"/>
<circle cx="571.3" cy="1688.8" r="2.25" fill="#9c9c9c"/>
<circle cx="571.3" cy="1695.1" r="2.25" fill="#9c9c9c"/>
<circle cx="571.3" cy="1701.9" r="2.25" fill="#9c9c9c"/>
<line x1="582.0" y1="1547.5" x2="582.0" y2="1722.7" stroke="#9c9c9c" stroke-width="4.4" stroke-linecap="round"/>
<line x1="592.0" y1="1542.5" x2="592.0" y2="1710.0" stroke="#9c9c9c" stroke-width="4.4" stroke-linecap="round"/>
<line x1="600.1" y1="1600.0" x2="600.1" y2="1700.0" stroke="#9c9c9c" stroke-width="4.4" stroke-linecap="round"/>
<circle cx="600.1" cy="1703.0" r="2.25" fill="#9c9c9c"/>
<circle cx="600.1" cy="1706.0" r="2.25" fill="#9c9c9c"/>
<circle cx="600.1" cy="1709.4" r="2.25" fill="#9c9c9c"/>
<circle cx="600.1" cy="1713.3" r="2.25" fill="#9c9c9c"/>
<circle cx="600.1" cy="1717.5" r="2.25" fill="#9c9c9c"/>
<circle cx="600.1" cy="1722.2" r="2.25" fill="#9c9c9c"/>
<circle cx="600.1" cy="1727.3" r="2.25" fill="#9c9c9c"/>
<circle cx="600.1" cy="1732.8" r="2.25" fill="#9c9c9c"/>
<circle cx="600.1" cy="1738.8" r="2.25" fill="#9c9c9c"/>
<line x1="578.8" y1="1615.0" x2="578.8" y2="1700.0" stroke="#9c9c9c" stroke-width="4.4" stroke-linecap="round"/>
<line x1="606.9" y1="1620.0" x2="606.9" y2="1701.4" stroke="#9c9c9c" stroke-width="4.4" stroke-linecap="round"/>
<line x1="598.3" y1="1508.8" x2="598.3" y2="1560.0" stroke="#9c9c9c" stroke-width="4.4" stroke-linecap="round"/>
<line x1="613.9" y1="1501.0" x2="613.9" y2="1560.0" stroke="#9c9c9c" stroke-width="4.4" stroke-linecap="round"/>
<line x1="605.1" y1="1530.0" x2="605.1" y2="1600.0" stroke="#9c9c9c" stroke-width="4.4" stroke-linecap="round"/>
<line x1="622.1" y1="1537.5" x2="622.1" y2="1607.6" stroke="#9c9c9c" stroke-width="4.4" stroke-linecap="round"/>
<line x1="644.4" y1="1533.8" x2="644.4" y2="1720.0" stroke="#9c9c9c" stroke-width="4.4" stroke-linecap="round"/>
<circle cx="644.4" cy="1723.0" r="2.25" fill="#9c9c9c"/>
<circle cx="644.4" cy="1726.0" r="2.25" fill="#9c9c9c"/>
<circle cx="644.4" cy="1729.4" r="2.25" fill="#9c9c9c"/>
<circle cx="644.4" cy="1733.3" r="2.25" fill="#9c9c9c"/>
<circle cx="644.4" cy="1737.5" r="2.25" fill="#9c9c9c"/>
<circle cx="644.4" cy="1742.2" r="2.25" fill="#9c9c9c"/>
<circle cx="644.4" cy="1747.3" r="2.25" fill="#9c9c9c"/>
<circle cx="644.4" cy="1752.8" r="2.25" fill="#9c9c9c"/>
<circle cx="644.4" cy="1758.8" r="2.25" fill="#9c9c9c"/>
<circle cx="644.4" cy="1765.1" r="2.25" fill="#9c9c9c"/>
<line x1="657.6" y1="1565.0" x2="657.6" y2="1660.0" stroke="#9c9c9c" stroke-width="4.4" stroke-linecap="round"/>
<line x1="662.0" y1="1538.8" x2="662.0" y2="1672.6" stroke="#9c9c9c" stroke-width="4.4" stroke-linecap="round"/>
<line x1="681.4" y1="1555.0" x2="681.4" y2="1660.0" stroke="#9c9c9c" stroke-width="4.4" stroke-linecap="round"/>
<circle cx="681.4" cy="1663.0" r="2.25" fill="#9c9c9c"/>
<circle cx="681.4" cy="1666.0" r="2.25" fill="#9c9c9c"/>
<circle cx="681.4" cy="1669.4" r="2.25" fill="#9c9c9c"/>
<circle cx="681.4" cy="1673.3" r="2.25" fill="#9c9c9c"/>
<circle cx="681.4" cy="1677.5" r="2.25" fill="#9c9c9c"/>
<circle cx="681.4" cy="1682.2" r="2.25" fill="#9c9c9c"/>
<circle cx="681.4" cy="1687.3" r="2.25" fill="#9c9c9c"/>
<circle cx="681.4" cy="1692.8" r="2.25" fill="#9c9c9c"/>
<circle cx="681.4" cy="1698.8" r="2.25" fill="#9c9c9c"/>
<circle cx="681.4" cy="1705.1" r="2.25" fill="#9c9c9c"/>
<circle cx="681.4" cy="1711.9" r="2.25" fill="#9c9c9c"/>
<circle cx="681.4" cy="1718.7" r="2.25" fill="#9c9c9c"/>
<circle cx="681.4" cy="1725.5" r="2.25" fill="#9c9c9c"/>
<circle cx="681.4" cy="1732.3" r="2.25" fill="#9c9c9c"/>
<line x1="703.2" y1="1572.6" x2="703.2" y2="1635.1" stroke="#9c9c9c" stroke-width="4.4" stroke-linecap="round"/>
<line x1="730.7" y1="1528.0" x2="730.7" y2="1596.3" stroke="#9c9c9c" stroke-width="4.4" stroke-linecap="round"/>
<line x1="725.2" y1="1602.6" x2="725.2" y2="1709.0" stroke="#9c9c9c" stroke-width="4.4" stroke-linecap="round"/>
<line x1="638.9" y1="1597.6" x2="638.9" y2="1720.0" stroke="#9c9c9c" stroke-width="4.4" stroke-linecap="round"/>
<circle cx="638.9" cy="1723.0" r="2.25" fill="#9c9c9c"/>
<circle cx="638.9" cy="1726.0" r="2.25" fill="#9c9c9c"/>
<circle cx="638.9" cy="1729.4" r="2.25" fill="#9c9c9c"/>
<circle cx="638.9" cy="1733.3" r="2.25" fill="#9c9c9c"/>
<circle cx="638.9" cy="1737.5" r="2.25" fill="#9c9c9c"/>
<circle cx="638.9" cy="1742.2" r="2.25" fill="#9c9c9c"/>
<circle cx="638.9" cy="1747.3" r="2.25" fill="#9c9c9c"/>
<circle cx="638.9" cy="1752.8" r="2.25" fill="#9c9c9c"/>
<line x1="654.6" y1="1617.6" x2="654.6" y2="1715.2" stroke="#9c9c9c" stroke-width="4.4" stroke-linecap="round"/>
<line x1="762.3" y1="1602.6" x2="762.3" y2="1700.2" stroke="#9c9c9c" stroke-width="4.4" stroke-linecap="round"/>
<line x1="772.6" y1="1600.0" x2="772.6" y2="1657.6" stroke="#9c9c9c" stroke-width="4.4" stroke-linecap="round"/>
<line x1="796.3" y1="1601.3" x2="796.3" y2="1669.6" stroke="#9c9c9c" stroke-width="4.4" stroke-linecap="round"/>
<line x1="853.3" y1="1605.0" x2="853.3" y2="1683.1" stroke="#9c9c9c" stroke-width="4.4" stroke-linecap="round"/>
<line x1="917.1" y1="1564.5" x2="917.1" y2="1735.0" stroke="#9c9c9c" stroke-width="4.4" stroke-linecap="round"/>
<circle cx="917.1" cy="1738.0" r="2.25" fill="#9c9c9c"/>
<circle cx="917.1" cy="1741.3" r="2.25" fill="#9c9c9c"/>
<circle cx="917.1" cy="1745.1" r="2.25" fill="#9c9c9c"/>
<circle cx="917.1" cy="1749.4" r="2.25" fill="#9c9c9c"/>
<circle cx="917.1" cy="1752.7" r="2.25" fill="#9c9c9c"/>
<circle cx="917.1" cy="1756.5" r="2.25" fill="#9c9c9c"/>
<circle cx="917.1" cy="1760.8" r="2.25" fill="#9c9c9c"/>
<circle cx="917.1" cy="1764.1" r="2.25" fill="#9c9c9c"/>
<line x1="913.9" y1="1606.0" x2="913.9" y2="1714.0" stroke="#9c9c9c" stroke-width="4.4" stroke-linecap="round"/>
<line x1="494.70" y1="1456.00" x2="494.70" y2="1812.50" stroke="#000" stroke-width="2.6" stroke-dasharray="12.75 11" stroke-dashoffset="8.25"/>
<line x1="754.60" y1="1456.00" x2="754.60" y2="1812.50" stroke="#000" stroke-width="2.6" stroke-dasharray="12.75 11" stroke-dashoffset="8.25"/>
<circle cx="762.3" cy="1634.8" r="11.1" fill="#31A354"/>
<circle cx="592.6" cy="1608.1" r="11.1" fill="#FDBE70"/>
<circle cx="510.0" cy="1620.1" r="11.1" fill="#31A354"/>
<circle cx="481.0" cy="1640.1" r="11.1" fill="#FDBE70"/>
<circle cx="522.0" cy="1613.1" r="11.1" fill="#31A354"/>
<circle cx="581.3" cy="1594.6" r="11.1" fill="#74C77F"/>
<circle cx="598.3" cy="1524.3" r="11.1" fill="#FF7F00"/>
<circle cx="592.6" cy="1592.6" r="11.1" fill="#ABE0A3"/>
<circle cx="600.1" cy="1627.1" r="11.1" fill="#ABE0A3"/>
<circle cx="606.9" cy="1655.1" r="11.1" fill="#ABE0A3"/>
<circle cx="605.1" cy="1551.3" r="11.1" fill="#F55C9E"/>
<circle cx="570.1" cy="1594.6" r="11.1" fill="#74C77F"/>
<circle cx="638.9" cy="1638.9" r="11.1" fill="#ABE0A3"/>
<circle cx="512.0" cy="1569.6" r="11.1" fill="#31A354"/>
<circle cx="548.3" cy="1656.4" r="11.1" fill="#ABE0A3"/>
<circle cx="206.3" cy="1598.1" r="11.1" fill="#ABE0A3"/>
<circle cx="364.6" cy="1590.1" r="11.1" fill="#E23A94"/>
<circle cx="381.4" cy="1601.3" r="11.1" fill="#74C77F"/>
<circle cx="412.7" cy="1589.6" r="11.1" fill="#74C77F"/>
<circle cx="417.7" cy="1629.6" r="11.1" fill="#ABE0A3"/>
<circle cx="435.7" cy="1612.1" r="11.1" fill="#ABE0A3"/>
<circle cx="451.0" cy="1658.1" r="11.1" fill="#ABE0A3"/>
<circle cx="528.0" cy="1681.4" r="11.1" fill="#ABE0A3"/>
<circle cx="578.8" cy="1645.9" r="11.1" fill="#ABE0A3"/>
<circle cx="645.1" cy="1639.6" r="11.1" fill="#ABE0A3"/>
<circle cx="654.6" cy="1642.6" r="11.1" fill="#ABE0A3"/>
<circle cx="725.2" cy="1644.6" r="11.1" fill="#FDBE70"/>
<circle cx="595.1" cy="1619.6" r="11.1" fill="#ABE0A3"/>
<circle cx="661.4" cy="1595.1" r="11.1" fill="#74C77F"/>
<circle cx="613.9" cy="1520.5" r="11.1" fill="#C51B8A"/>
<circle cx="622.1" cy="1562.5" r="11.1" fill="#FF7F00"/>
<circle cx="703.2" cy="1594.6" r="11.1" fill="#74C77F"/>
<circle cx="730.7" cy="1548.8" r="11.1" fill="#74C77F"/>
<circle cx="657.1" cy="1589.6" r="11.1" fill="#FDB254"/>
<circle cx="644.4" cy="1570.1" r="11.1" fill="#F55C9E"/>
<circle cx="681.4" cy="1587.6" r="11.1" fill="#74C77F"/>
<circle cx="772.6" cy="1624.0" r="11.1" fill="#ABE0A3"/>
<circle cx="913.9" cy="1635.1" r="11.1" fill="#ABE0A3"/>
<circle cx="917.1" cy="1619.6" r="11.1" fill="#74C77F"/>
<circle cx="914.6" cy="1645.6" r="11.1" fill="#A6CEE3"/>
<circle cx="853.3" cy="1632.1" r="11.1" fill="#ABE0A3"/>
<circle cx="796.3" cy="1630.6" r="11.1" fill="#3D8BCB"/>
<text x="761.8" y="1639.8" font-size="14.5" font-weight="bold" font-style="italic" text-anchor="middle" fill="#111">1</text>
<text x="592.1" y="1613.1" font-size="14.5" font-weight="bold" font-style="italic" text-anchor="middle" fill="#111">2</text>
<text x="509.5" y="1625.1" font-size="14.5" font-weight="bold" font-style="italic" text-anchor="middle" fill="#111">3</text>
<text x="480.5" y="1645.1" font-size="14.5" font-weight="bold" font-style="italic" text-anchor="middle" fill="#111">4</text>
<text x="521.5" y="1618.1" font-size="14.5" font-weight="bold" font-style="italic" text-anchor="middle" fill="#111">5</text>
<text x="580.8" y="1599.6" font-size="14.5" font-weight="bold" font-style="italic" text-anchor="middle" fill="#111">6</text>
<text x="597.8" y="1529.3" font-size="14.5" font-weight="bold" font-style="italic" text-anchor="middle" fill="#111">7</text>
<text x="592.1" y="1597.6" font-size="14.5" font-weight="bold" font-style="italic" text-anchor="middle" fill="#111">8</text>
<text x="599.6" y="1632.1" font-size="14.5" font-weight="bold" font-style="italic" text-anchor="middle" fill="#111">9</text>
<text x="606.4" y="1660.1" font-size="14.5" font-weight="bold" font-style="italic" text-anchor="middle" fill="#111">10</text>
<text x="604.6" y="1556.3" font-size="14.5" font-weight="bold" font-style="italic" text-anchor="middle" fill="#111">11</text>
<text x="569.6" y="1599.6" font-size="14.5" font-weight="bold" font-style="italic" text-anchor="middle" fill="#111">12</text>
<text x="638.4" y="1643.9" font-size="14.5" font-weight="bold" font-style="italic" text-anchor="middle" fill="#111">13</text>
<text x="511.5" y="1574.6" font-size="14.5" font-weight="bold" font-style="italic" text-anchor="middle" fill="#111">14</text>
<text x="547.8" y="1661.4" font-size="14.5" font-weight="bold" font-style="italic" text-anchor="middle" fill="#111">15</text>
<text x="205.8" y="1603.1" font-size="14.5" font-weight="bold" font-style="italic" text-anchor="middle" fill="#111">16</text>
<text x="364.1" y="1595.1" font-size="14.5" font-weight="bold" font-style="italic" text-anchor="middle" fill="#111">17</text>
<text x="380.9" y="1606.3" font-size="14.5" font-weight="bold" font-style="italic" text-anchor="middle" fill="#111">18</text>
<text x="412.2" y="1594.6" font-size="14.5" font-weight="bold" font-style="italic" text-anchor="middle" fill="#111">19</text>
<text x="417.2" y="1634.6" font-size="14.5" font-weight="bold" font-style="italic" text-anchor="middle" fill="#111">20</text>
<text x="435.2" y="1617.1" font-size="14.5" font-weight="bold" font-style="italic" text-anchor="middle" fill="#111">21</text>
<text x="450.5" y="1663.1" font-size="14.5" font-weight="bold" font-style="italic" text-anchor="middle" fill="#111">22</text>
<text x="527.5" y="1686.4" font-size="14.5" font-weight="bold" font-style="italic" text-anchor="middle" fill="#111">23</text>
<text x="578.3" y="1650.9" font-size="14.5" font-weight="bold" font-style="italic" text-anchor="middle" fill="#111">24</text>
<text x="644.6" y="1644.6" font-size="14.5" font-weight="bold" font-style="italic" text-anchor="middle" fill="#111">25</text>
<text x="654.1" y="1647.6" font-size="14.5" font-weight="bold" font-style="italic" text-anchor="middle" fill="#111">26</text>
<text x="724.7" y="1649.6" font-size="14.5" font-weight="bold" font-style="italic" text-anchor="middle" fill="#111">27</text>
<text x="594.6" y="1624.6" font-size="14.5" font-weight="bold" font-style="italic" text-anchor="middle" fill="#111">28</text>
<text x="660.9" y="1600.1" font-size="14.5" font-weight="bold" font-style="italic" text-anchor="middle" fill="#111">29</text>
<text x="613.4" y="1525.5" font-size="14.5" font-weight="bold" font-style="italic" text-anchor="middle" fill="#111">30</text>
<text x="621.6" y="1567.5" font-size="14.5" font-weight="bold" font-style="italic" text-anchor="middle" fill="#111">31</text>
<text x="702.7" y="1599.6" font-size="14.5" font-weight="bold" font-style="italic" text-anchor="middle" fill="#111">32</text>
<text x="730.2" y="1553.8" font-size="14.5" font-weight="bold" font-style="italic" text-anchor="middle" fill="#111">33</text>
<text x="656.6" y="1594.6" font-size="14.5" font-weight="bold" font-style="italic" text-anchor="middle" fill="#111">34</text>
<text x="643.9" y="1575.1" font-size="14.5" font-weight="bold" font-style="italic" text-anchor="middle" fill="#111">35</text>
<text x="680.9" y="1592.6" font-size="14.5" font-weight="bold" font-style="italic" text-anchor="middle" fill="#111">36</text>
<text x="772.1" y="1629.0" font-size="14.5" font-weight="bold" font-style="italic" text-anchor="middle" fill="#111">37</text>
<text x="913.4" y="1640.1" font-size="14.5" font-weight="bold" font-style="italic" text-anchor="middle" fill="#111">38</text>
<text x="916.6" y="1624.6" font-size="14.5" font-weight="bold" font-style="italic" text-anchor="middle" fill="#111">39</text>
<text x="914.1" y="1650.6" font-size="14.5" font-weight="bold" font-style="italic" text-anchor="middle" fill="#111">40</text>
<text x="852.8" y="1637.1" font-size="14.5" font-weight="bold" font-style="italic" text-anchor="middle" fill="#111">41</text>
<text x="795.8" y="1635.6" font-size="14.5" font-weight="bold" font-style="italic" text-anchor="middle" fill="#111">42</text>
<line x1="206.30" y1="1608.80" x2="494.70" y2="1608.80" stroke="#000" stroke-width="4.5" />
<line x1="206.30" y1="1601.55" x2="206.30" y2="1616.05" stroke="#000" stroke-width="4.5" />
<line x1="494.70" y1="1601.55" x2="494.70" y2="1616.05" stroke="#000" stroke-width="4.5" />
<line x1="494.70" y1="1582.10" x2="754.60" y2="1582.10" stroke="#000" stroke-width="4.5" />
<line x1="494.70" y1="1574.85" x2="494.70" y2="1589.35" stroke="#000" stroke-width="4.5" />
<line x1="754.60" y1="1574.85" x2="754.60" y2="1589.35" stroke="#000" stroke-width="4.5" />
<line x1="754.60" y1="1630.10" x2="917.10" y2="1630.10" stroke="#000" stroke-width="4.5" />
<line x1="754.60" y1="1622.85" x2="754.60" y2="1637.35" stroke="#000" stroke-width="4.5" />
<line x1="917.10" y1="1622.85" x2="917.10" y2="1637.35" stroke="#000" stroke-width="4.5" />
<rect x="105.25" y="1456" width="1038.75" height="356.5" fill="none" stroke="#111" stroke-width="1.5"/>
<line x1="105.25" y1="1456.00" x2="105.25" y2="1445.30" stroke="#111" stroke-width="1.4" />
<line x1="105.25" y1="1812.50" x2="105.25" y2="1823.20" stroke="#111" stroke-width="1.4" />
<line x1="235.09" y1="1456.00" x2="235.09" y2="1445.30" stroke="#111" stroke-width="1.4" />
<line x1="235.09" y1="1812.50" x2="235.09" y2="1823.20" stroke="#111" stroke-width="1.4" />
<line x1="364.93" y1="1456.00" x2="364.93" y2="1445.30" stroke="#111" stroke-width="1.4" />
<line x1="364.93" y1="1812.50" x2="364.93" y2="1823.20" stroke="#111" stroke-width="1.4" />
<line x1="494.77" y1="1456.00" x2="494.77" y2="1445.30" stroke="#111" stroke-width="1.4" />
<line x1="494.77" y1="1812.50" x2="494.77" y2="1823.20" stroke="#111" stroke-width="1.4" />
<line x1="624.61" y1="1456.00" x2="624.61" y2="1445.30" stroke="#111" stroke-width="1.4" />
<line x1="624.61" y1="1812.50" x2="624.61" y2="1823.20" stroke="#111" stroke-width="1.4" />
<line x1="754.45" y1="1456.00" x2="754.45" y2="1445.30" stroke="#111" stroke-width="1.4" />
<line x1="754.45" y1="1812.50" x2="754.45" y2="1823.20" stroke="#111" stroke-width="1.4" />
<line x1="884.29" y1="1456.00" x2="884.29" y2="1445.30" stroke="#111" stroke-width="1.4" />
<line x1="884.29" y1="1812.50" x2="884.29" y2="1823.20" stroke="#111" stroke-width="1.4" />
<line x1="1014.13" y1="1456.00" x2="1014.13" y2="1445.30" stroke="#111" stroke-width="1.4" />
<line x1="1014.13" y1="1812.50" x2="1014.13" y2="1823.20" stroke="#111" stroke-width="1.4" />
<line x1="1143.97" y1="1456.00" x2="1143.97" y2="1445.30" stroke="#111" stroke-width="1.4" />
<line x1="1143.97" y1="1812.50" x2="1143.97" y2="1823.20" stroke="#111" stroke-width="1.4" />
<line x1="105.25" y1="1456.00" x2="94.55" y2="1456.00" stroke="#111" stroke-width="1.4" />
<line x1="1144.00" y1="1456.00" x2="1154.70" y2="1456.00" stroke="#111" stroke-width="1.4" />
<text x="87.50" y="1465.40" font-size="24" font-weight="bold" font-style="normal" text-anchor="end" fill="#111" >-3.5</text>
<line x1="105.25" y1="1500.56" x2="94.55" y2="1500.56" stroke="#111" stroke-width="1.4" />
<line x1="1144.00" y1="1500.56" x2="1154.70" y2="1500.56" stroke="#111" stroke-width="1.4" />
<text x="87.50" y="1509.96" font-size="24" font-weight="bold" font-style="normal" text-anchor="end" fill="#111" >-4</text>
<line x1="105.25" y1="1545.12" x2="94.55" y2="1545.12" stroke="#111" stroke-width="1.4" />
<line x1="1144.00" y1="1545.12" x2="1154.70" y2="1545.12" stroke="#111" stroke-width="1.4" />
<text x="87.50" y="1554.52" font-size="24" font-weight="bold" font-style="normal" text-anchor="end" fill="#111" >-4.5</text>
<line x1="105.25" y1="1589.68" x2="94.55" y2="1589.68" stroke="#111" stroke-width="1.4" />
<line x1="1144.00" y1="1589.68" x2="1154.70" y2="1589.68" stroke="#111" stroke-width="1.4" />
<text x="87.50" y="1599.08" font-size="24" font-weight="bold" font-style="normal" text-anchor="end" fill="#111" >-5</text>
<line x1="105.25" y1="1634.24" x2="94.55" y2="1634.24" stroke="#111" stroke-width="1.4" />
<line x1="1144.00" y1="1634.24" x2="1154.70" y2="1634.24" stroke="#111" stroke-width="1.4" />
<text x="87.50" y="1643.64" font-size="24" font-weight="bold" font-style="normal" text-anchor="end" fill="#111" >-5.5</text>
<line x1="105.25" y1="1678.80" x2="94.55" y2="1678.80" stroke="#111" stroke-width="1.4" />
<line x1="1144.00" y1="1678.80" x2="1154.70" y2="1678.80" stroke="#111" stroke-width="1.4" />
<text x="87.50" y="1688.20" font-size="24" font-weight="bold" font-style="normal" text-anchor="end" fill="#111" >-6</text>
<line x1="105.25" y1="1723.36" x2="94.55" y2="1723.36" stroke="#111" stroke-width="1.4" />
<line x1="1144.00" y1="1723.36" x2="1154.70" y2="1723.36" stroke="#111" stroke-width="1.4" />
<text x="87.50" y="1732.76" font-size="24" font-weight="bold" font-style="normal" text-anchor="end" fill="#111" >-6.5</text>
<line x1="105.25" y1="1767.92" x2="94.55" y2="1767.92" stroke="#111" stroke-width="1.4" />
<line x1="1144.00" y1="1767.92" x2="1154.70" y2="1767.92" stroke="#111" stroke-width="1.4" />
<text x="87.50" y="1777.32" font-size="24" font-weight="bold" font-style="normal" text-anchor="end" fill="#111" >-7</text>
<line x1="105.25" y1="1812.48" x2="94.55" y2="1812.48" stroke="#111" stroke-width="1.4" />
<line x1="1144.00" y1="1812.48" x2="1154.70" y2="1812.48" stroke="#111" stroke-width="1.4" />
<text x="87.50" y="1821.88" font-size="24" font-weight="bold" font-style="normal" text-anchor="end" fill="#111" >-7.5</text>
<line x1="206.3" y1="2038.8" x2="206.3" y2="2096.4" stroke="#9c9c9c" stroke-width="4.4" stroke-linecap="round"/>
<line x1="364.6" y1="2004.6" x2="364.6" y2="2115.0" stroke="#9c9c9c" stroke-width="4.4" stroke-linecap="round"/>
<circle cx="364.6" cy="2118.0" r="2.25" fill="#9c9c9c"/>
<circle cx="364.6" cy="2121.3" r="2.25" fill="#9c9c9c"/>
<circle cx="364.6" cy="2125.1" r="2.25" fill="#9c9c9c"/>
<circle cx="364.6" cy="2129.4" r="2.25" fill="#9c9c9c"/>
<circle cx="364.6" cy="2132.7" r="2.25" fill="#9c9c9c"/>
<line x1="381.4" y1="2012.0" x2="381.4" y2="2098.9" stroke="#9c9c9c" stroke-width="4.4" stroke-linecap="round"/>
<line x1="412.7" y1="2013.8" x2="412.7" y2="2071.4" stroke="#9c9c9c" stroke-width="4.4" stroke-linecap="round"/>
<line x1="418.2" y1="2040.0" x2="418.2" y2="2077.6" stroke="#9c9c9c" stroke-width="4.4" stroke-linecap="round"/>
<line x1="435.7" y1="1972.5" x2="435.7" y2="2083.9" stroke="#9c9c9c" stroke-width="4.4" stroke-linecap="round"/>
<line x1="451.0" y1="2023.8" x2="451.0" y2="2108.9" stroke="#9c9c9c" stroke-width="4.4" stroke-linecap="round"/>
<line x1="481.0" y1="2015.6" x2="481.0" y2="2070.6" stroke="#9c9c9c" stroke-width="4.4" stroke-linecap="round"/>
<line x1="522.0" y1="1986.3" x2="522.0" y2="2040.0" stroke="#9c9c9c" stroke-width="4.4" stroke-linecap="round"/>
<line x1="509.5" y1="1995.0" x2="509.5" y2="2065.0" stroke="#9c9c9c" stroke-width="4.4" stroke-linecap="round"/>
<line x1="511.5" y1="2000.0" x2="511.5" y2="2072.6" stroke="#9c9c9c" stroke-width="4.4" stroke-linecap="round"/>
<line x1="528.0" y1="2038.8" x2="528.0" y2="2103.9" stroke="#9c9c9c" stroke-width="4.4" stroke-linecap="round"/>
<line x1="548.3" y1="2008.8" x2="548.3" y2="2080.1" stroke="#9c9c9c" stroke-width="4.4" stroke-linecap="round"/>
<line x1="571.3" y1="1995.0" x2="571.3" y2="2090.0" stroke="#9c9c9c" stroke-width="4.4" stroke-linecap="round"/>
<line x1="582.0" y1="1968.8" x2="582.0" y2="2060.0" stroke="#9c9c9c" stroke-width="4.4" stroke-linecap="round"/>
<line x1="592.0" y1="1965.0" x2="592.0" y2="2090.0" stroke="#9c9c9c" stroke-width="4.4" stroke-linecap="round"/>
<line x1="605.0" y1="1965.0" x2="605.0" y2="2043.0" stroke="#9c9c9c" stroke-width="4.4" stroke-linecap="round"/>
<line x1="598.3" y1="1962.0" x2="598.3" y2="2010.0" stroke="#9c9c9c" stroke-width="4.4" stroke-linecap="round"/>
<line x1="613.9" y1="1955.0" x2="613.9" y2="2000.0" stroke="#9c9c9c" stroke-width="4.4" stroke-linecap="round"/>
<line x1="622.1" y1="1980.0" x2="622.1" y2="2015.0" stroke="#9c9c9c" stroke-width="4.4" stroke-linecap="round"/>
<line x1="644.4" y1="1967.5" x2="644.4" y2="2137.2" stroke="#9c9c9c" stroke-width="4.4" stroke-linecap="round"/>
<line x1="657.6" y1="1975.0" x2="657.6" y2="2020.0" stroke="#9c9c9c" stroke-width="4.4" stroke-linecap="round"/>
<line x1="681.4" y1="1964.5" x2="681.4" y2="2016.3" stroke="#9c9c9c" stroke-width="4.4" stroke-linecap="round"/>
<line x1="703.2" y1="1955.5" x2="703.2" y2="2012.1" stroke="#9c9c9c" stroke-width="4.4" stroke-linecap="round"/>
<line x1="654.6" y1="2000.0" x2="654.6" y2="2077.6" stroke="#9c9c9c" stroke-width="4.4" stroke-linecap="round"/>
<line x1="662.1" y1="2000.0" x2="662.1" y2="2061.4" stroke="#9c9c9c" stroke-width="4.4" stroke-linecap="round"/>
<line x1="731.0" y1="1978.0" x2="731.0" y2="2056.4" stroke="#9c9c9c" stroke-width="4.4" stroke-linecap="round"/>
<line x1="725.2" y1="1991.3" x2="725.2" y2="2078.9" stroke="#9c9c9c" stroke-width="4.4" stroke-linecap="round"/>
<line x1="638.9" y1="2020.0" x2="638.9" y2="2097.6" stroke="#9c9c9c" stroke-width="4.4" stroke-linecap="round"/>
<line x1="578.8" y1="2046.3" x2="578.8" y2="2100.1" stroke="#9c9c9c" stroke-width="4.4" stroke-linecap="round"/>
<line x1="595.1" y1="2030.0" x2="595.1" y2="2133.2" stroke="#9c9c9c" stroke-width="4.4" stroke-linecap="round"/>
<line x1="762.3" y1="2015.0" x2="762.3" y2="2080.1" stroke="#9c9c9c" stroke-width="4.4" stroke-linecap="round"/>
<line x1="772.6" y1="1981.3" x2="772.6" y2="2033.8" stroke="#9c9c9c" stroke-width="4.4" stroke-linecap="round"/>
<line x1="796.3" y1="1993.8" x2="796.3" y2="2061.4" stroke="#9c9c9c" stroke-width="4.4" stroke-linecap="round"/>
<line x1="853.3" y1="2005.8" x2="853.3" y2="2090.6" stroke="#9c9c9c" stroke-width="4.4" stroke-linecap="round"/>
<line x1="917.1" y1="1963.8" x2="917.1" y2="2045.0" stroke="#9c9c9c" stroke-width="4.4" stroke-linecap="round"/>
<line x1="913.9" y1="1972.5" x2="913.9" y2="2100.1" stroke="#9c9c9c" stroke-width="4.4" stroke-linecap="round"/>
<line x1="494.70" y1="1861.00" x2="494.70" y2="2217.30" stroke="#000" stroke-width="2.6" stroke-dasharray="12.75 11" stroke-dashoffset="8.25"/>
<line x1="754.60" y1="1861.00" x2="754.60" y2="2217.30" stroke="#000" stroke-width="2.6" stroke-dasharray="12.75 11" stroke-dashoffset="8.25"/>
<circle cx="762.3" cy="2044.3" r="11.1" fill="#31A354"/>
<circle cx="592.6" cy="2023.8" r="11.1" fill="#FDBE70"/>
<circle cx="510.0" cy="2023.8" r="11.1" fill="#31A354"/>
<circle cx="481.0" cy="2034.8" r="11.1" fill="#FDBE70"/>
<circle cx="522.0" cy="2003.1" r="11.1" fill="#31A354"/>
<circle cx="582.6" cy="1996.3" r="11.1" fill="#74C77F"/>
<circle cx="598.3" cy="1982.5" r="11.1" fill="#FF7F00"/>
<circle cx="592.6" cy="2012.6" r="11.1" fill="#ABE0A3"/>
<circle cx="600.1" cy="1998.8" r="11.1" fill="#ABE0A3"/>
<circle cx="606.9" cy="2018.8" r="11.1" fill="#ABE0A3"/>
<circle cx="606.4" cy="1996.3" r="11.1" fill="#F55C9E"/>
<circle cx="571.3" cy="2020.1" r="11.1" fill="#74C77F"/>
<circle cx="638.9" cy="2051.4" r="11.1" fill="#ABE0A3"/>
<circle cx="512.0" cy="2032.6" r="11.1" fill="#31A354"/>
<circle cx="548.3" cy="2036.8" r="11.1" fill="#ABE0A3"/>
<circle cx="206.3" cy="2061.4" r="11.1" fill="#ABE0A3"/>
<circle cx="364.6" cy="2050.1" r="11.1" fill="#E23A94"/>
<circle cx="381.4" cy="2050.9" r="11.1" fill="#74C77F"/>
<circle cx="412.7" cy="2031.8" r="11.1" fill="#74C77F"/>
<circle cx="417.7" cy="2048.1" r="11.1" fill="#ABE0A3"/>
<circle cx="435.7" cy="2009.6" r="11.1" fill="#ABE0A3"/>
<circle cx="451.0" cy="2061.4" r="11.1" fill="#ABE0A3"/>
<circle cx="528.0" cy="2071.4" r="11.1" fill="#ABE0A3"/>
<circle cx="578.8" cy="2067.1" r="11.1" fill="#ABE0A3"/>
<circle cx="644.4" cy="2067.6" r="11.1" fill="#ABE0A3"/>
<circle cx="653.9" cy="2020.1" r="11.1" fill="#ABE0A3"/>
<circle cx="725.2" cy="2015.8" r="11.1" fill="#FDBE70"/>
<circle cx="595.1" cy="2071.9" r="11.1" fill="#ABE0A3"/>
<circle cx="662.1" cy="2020.8" r="11.1" fill="#74C77F"/>
<circle cx="613.9" cy="1978.0" r="11.1" fill="#C51B8A"/>
<circle cx="622.1" cy="1999.6" r="11.1" fill="#FF7F00"/>
<circle cx="703.2" cy="1973.3" r="11.1" fill="#74C77F"/>
<circle cx="731.0" cy="2007.6" r="11.1" fill="#74C77F"/>
<circle cx="657.6" cy="1992.6" r="11.1" fill="#FDB254"/>
<circle cx="644.4" cy="1986.3" r="11.1" fill="#F55C9E"/>
<circle cx="681.4" cy="1983.0" r="11.1" fill="#74C77F"/>
<circle cx="772.6" cy="2003.3" r="11.1" fill="#ABE0A3"/>
<circle cx="913.9" cy="1998.8" r="11.1" fill="#ABE0A3"/>
<circle cx="917.1" cy="1992.1" r="11.1" fill="#74C77F"/>
<circle cx="914.6" cy="2025.8" r="11.1" fill="#A6CEE3"/>
<circle cx="853.3" cy="2042.1" r="11.1" fill="#ABE0A3"/>
<circle cx="796.3" cy="2016.3" r="11.1" fill="#3D8BCB"/>
<text x="761.8" y="2049.3" font-size="14.5" font-weight="bold" font-style="italic" text-anchor="middle" fill="#111">1</text>
<text x="592.1" y="2028.8" font-size="14.5" font-weight="bold" font-style="italic" text-anchor="middle" fill="#111">2</text>
<text x="509.5" y="2028.8" font-size="14.5" font-weight="bold" font-style="italic" text-anchor="middle" fill="#111">3</text>
<text x="480.5" y="2039.8" font-size="14.5" font-weight="bold" font-style="italic" text-anchor="middle" fill="#111">4</text>
<text x="521.5" y="2008.1" font-size="14.5" font-weight="bold" font-style="italic" text-anchor="middle" fill="#111">5</text>
<text x="582.1" y="2001.3" font-size="14.5" font-weight="bold" font-style="italic" text-anchor="middle" fill="#111">6</text>
<text x="597.8" y="1987.5" font-size="14.5" font-weight="bold" font-style="italic" text-anchor="middle" fill="#111">7</text>
<text x="592.1" y="2017.6" font-size="14.5" font-weight="bold" font-style="italic" text-anchor="middle" fill="#111">8</text>
<text x="599.6" y="2003.8" font-size="14.5" font-weight="bold" font-style="italic" text-anchor="middle" fill="#111">9</text>
<text x="606.4" y="2023.8" font-size="14.5" font-weight="bold" font-style="italic" text-anchor="middle" fill="#111">10</text>
<text x="605.9" y="2001.3" font-size="14.5" font-weight="bold" font-style="italic" text-anchor="middle" fill="#111">11</text>
<text x="570.8" y="2025.1" font-size="14.5" font-weight="bold" font-style="italic" text-anchor="middle" fill="#111">12</text>
<text x="638.4" y="2056.4" font-size="14.5" font-weight="bold" font-style="italic" text-anchor="middle" fill="#111">13</text>
<text x="511.5" y="2037.6" font-size="14.5" font-weight="bold" font-style="italic" text-anchor="middle" fill="#111">14</text>
<text x="547.8" y="2041.8" font-size="14.5" font-weight="bold" font-style="italic" text-anchor="middle" fill="#111">15</text>
<text x="205.8" y="2066.4" font-size="14.5" font-weight="bold" font-style="italic" text-anchor="middle" fill="#111">16</text>
<text x="364.1" y="2055.1" font-size="14.5" font-weight="bold" font-style="italic" text-anchor="middle" fill="#111">17</text>
<text x="380.9" y="2055.9" font-size="14.5" font-weight="bold" font-style="italic" text-anchor="middle" fill="#111">18</text>
<text x="412.2" y="2036.8" font-size="14.5" font-weight="bold" font-style="italic" text-anchor="middle" fill="#111">19</text>
<text x="417.2" y="2053.1" font-size="14.5" font-weight="bold" font-style="italic" text-anchor="middle" fill="#111">20</text>
<text x="435.2" y="2014.6" font-size="14.5" font-weight="bold" font-style="italic" text-anchor="middle" fill="#111">21</text>
<text x="450.5" y="2066.4" font-size="14.5" font-weight="bold" font-style="italic" text-anchor="middle" fill="#111">22</text>
<text x="527.5" y="2076.4" font-size="14.5" font-weight="bold" font-style="italic" text-anchor="middle" fill="#111">23</text>
<text x="578.3" y="2072.1" font-size="14.5" font-weight="bold" font-style="italic" text-anchor="middle" fill="#111">24</text>
<text x="643.9" y="2072.6" font-size="14.5" font-weight="bold" font-style="italic" text-anchor="middle" fill="#111">25</text>
<text x="653.4" y="2025.1" font-size="14.5" font-weight="bold" font-style="italic" text-anchor="middle" fill="#111">26</text>
<text x="724.7" y="2020.8" font-size="14.5" font-weight="bold" font-style="italic" text-anchor="middle" fill="#111">27</text>
<text x="594.6" y="2076.9" font-size="14.5" font-weight="bold" font-style="italic" text-anchor="middle" fill="#111">28</text>
<text x="661.6" y="2025.8" font-size="14.5" font-weight="bold" font-style="italic" text-anchor="middle" fill="#111">29</text>
<text x="613.4" y="1983.0" font-size="14.5" font-weight="bold" font-style="italic" text-anchor="middle" fill="#111">30</text>
<text x="621.6" y="2004.6" font-size="14.5" font-weight="bold" font-style="italic" text-anchor="middle" fill="#111">31</text>
<text x="702.7" y="1978.3" font-size="14.5" font-weight="bold" font-style="italic" text-anchor="middle" fill="#111">32</text>
<text x="730.5" y="2012.6" font-size="14.5" font-weight="bold" font-style="italic" text-anchor="middle" fill="#111">33</text>
<text x="657.1" y="1997.6" font-size="14.5" font-weight="bold" font-style="italic" text-anchor="middle" fill="#111">34</text>
<text x="643.9" y="1991.3" font-size="14.5" font-weight="bold" font-style="italic" text-anchor="middle" fill="#111">35</text>
<text x="680.9" y="1988.0" font-size="14.5" font-weight="bold" font-style="italic" text-anchor="middle" fill="#111">36</text>
<text x="772.1" y="2008.3" font-size="14.5" font-weight="bold" font-style="italic" text-anchor="middle" fill="#111">37</text>
<text x="913.4" y="2003.8" font-size="14.5" font-weight="bold" font-style="italic" text-anchor="middle" fill="#111">38</text>
<text x="916.6" y="1997.1" font-size="14.5" font-weight="bold" font-style="italic" text-anchor="middle" fill="#111">39</text>
<text x="914.1" y="2030.8" font-size="14.5" font-weight="bold" font-style="italic" text-anchor="middle" fill="#111">40</text>
<text x="852.8" y="2047.1" font-size="14.5" font-weight="bold" font-style="italic" text-anchor="middle" fill="#111">41</text>
<text x="795.8" y="2021.3" font-size="14.5" font-weight="bold" font-style="italic" text-anchor="middle" fill="#111">42</text>
<line x1="206.30" y1="2039.20" x2="494.70" y2="2039.20" stroke="#000" stroke-width="4.5" />
<line x1="206.30" y1="2031.95" x2="206.30" y2="2046.45" stroke="#000" stroke-width="4.5" />
<line x1="494.70" y1="2031.95" x2="494.70" y2="2046.45" stroke="#000" stroke-width="4.5" />
<line x1="494.70" y1="2007.10" x2="754.60" y2="2007.10" stroke="#000" stroke-width="4.5" />
<line x1="494.70" y1="1999.85" x2="494.70" y2="2014.35" stroke="#000" stroke-width="4.5" />
<line x1="754.60" y1="1999.85" x2="754.60" y2="2014.35" stroke="#000" stroke-width="4.5" />
<line x1="754.60" y1="2012.60" x2="917.10" y2="2012.60" stroke="#000" stroke-width="4.5" />
<line x1="754.60" y1="2005.35" x2="754.60" y2="2019.85" stroke="#000" stroke-width="4.5" />
<line x1="917.10" y1="2005.35" x2="917.10" y2="2019.85" stroke="#000" stroke-width="4.5" />
<rect x="105.25" y="1861" width="1038.75" height="356.3000000000002" fill="none" stroke="#111" stroke-width="1.5"/>
<line x1="105.25" y1="1861.00" x2="105.25" y2="1850.30" stroke="#111" stroke-width="1.4" />
<line x1="105.25" y1="2217.30" x2="105.25" y2="2228.00" stroke="#111" stroke-width="1.4" />
<line x1="235.09" y1="1861.00" x2="235.09" y2="1850.30" stroke="#111" stroke-width="1.4" />
<line x1="235.09" y1="2217.30" x2="235.09" y2="2228.00" stroke="#111" stroke-width="1.4" />
<line x1="364.93" y1="1861.00" x2="364.93" y2="1850.30" stroke="#111" stroke-width="1.4" />
<line x1="364.93" y1="2217.30" x2="364.93" y2="2228.00" stroke="#111" stroke-width="1.4" />
<line x1="494.77" y1="1861.00" x2="494.77" y2="1850.30" stroke="#111" stroke-width="1.4" />
<line x1="494.77" y1="2217.30" x2="494.77" y2="2228.00" stroke="#111" stroke-width="1.4" />
<line x1="624.61" y1="1861.00" x2="624.61" y2="1850.30" stroke="#111" stroke-width="1.4" />
<line x1="624.61" y1="2217.30" x2="624.61" y2="2228.00" stroke="#111" stroke-width="1.4" />
<line x1="754.45" y1="1861.00" x2="754.45" y2="1850.30" stroke="#111" stroke-width="1.4" />
<line x1="754.45" y1="2217.30" x2="754.45" y2="2228.00" stroke="#111" stroke-width="1.4" />
<line x1="884.29" y1="1861.00" x2="884.29" y2="1850.30" stroke="#111" stroke-width="1.4" />
<line x1="884.29" y1="2217.30" x2="884.29" y2="2228.00" stroke="#111" stroke-width="1.4" />
<line x1="1014.13" y1="1861.00" x2="1014.13" y2="1850.30" stroke="#111" stroke-width="1.4" />
<line x1="1014.13" y1="2217.30" x2="1014.13" y2="2228.00" stroke="#111" stroke-width="1.4" />
<line x1="1143.97" y1="1861.00" x2="1143.97" y2="1850.30" stroke="#111" stroke-width="1.4" />
<line x1="1143.97" y1="2217.30" x2="1143.97" y2="2228.00" stroke="#111" stroke-width="1.4" />
<line x1="105.25" y1="1861.00" x2="94.55" y2="1861.00" stroke="#111" stroke-width="1.4" />
<line x1="1144.00" y1="1861.00" x2="1154.70" y2="1861.00" stroke="#111" stroke-width="1.4" />
<text x="87.50" y="1870.40" font-size="24" font-weight="bold" font-style="normal" text-anchor="end" fill="#111" >-3.5</text>
<line x1="105.25" y1="1905.53" x2="94.55" y2="1905.53" stroke="#111" stroke-width="1.4" />
<line x1="1144.00" y1="1905.53" x2="1154.70" y2="1905.53" stroke="#111" stroke-width="1.4" />
<text x="87.50" y="1914.93" font-size="24" font-weight="bold" font-style="normal" text-anchor="end" fill="#111" >-4</text>
<line x1="105.25" y1="1950.05" x2="94.55" y2="1950.05" stroke="#111" stroke-width="1.4" />
<line x1="1144.00" y1="1950.05" x2="1154.70" y2="1950.05" stroke="#111" stroke-width="1.4" />
<text x="87.50" y="1959.45" font-size="24" font-weight="bold" font-style="normal" text-anchor="end" fill="#111" >-4.5</text>
<line x1="105.25" y1="1994.58" x2="94.55" y2="1994.58" stroke="#111" stroke-width="1.4" />
<line x1="1144.00" y1="1994.58" x2="1154.70" y2="1994.58" stroke="#111" stroke-width="1.4" />
<text x="87.50" y="2003.98" font-size="24" font-weight="bold" font-style="normal" text-anchor="end" fill="#111" >-5</text>
<line x1="105.25" y1="2039.10" x2="94.55" y2="2039.10" stroke="#111" stroke-width="1.4" />
<line x1="1144.00" y1="2039.10" x2="1154.70" y2="2039.10" stroke="#111" stroke-width="1.4" />
<text x="87.50" y="2048.50" font-size="24" font-weight="bold" font-style="normal" text-anchor="end" fill="#111" >-5.5</text>
<line x1="105.25" y1="2083.62" x2="94.55" y2="2083.62" stroke="#111" stroke-width="1.4" />
<line x1="1144.00" y1="2083.62" x2="1154.70" y2="2083.62" stroke="#111" stroke-width="1.4" />
<text x="87.50" y="2093.03" font-size="24" font-weight="bold" font-style="normal" text-anchor="end" fill="#111" >-6</text>
<line x1="105.25" y1="2128.15" x2="94.55" y2="2128.15" stroke="#111" stroke-width="1.4" />
<line x1="1144.00" y1="2128.15" x2="1154.70" y2="2128.15" stroke="#111" stroke-width="1.4" />
<text x="87.50" y="2137.55" font-size="24" font-weight="bold" font-style="normal" text-anchor="end" fill="#111" >-6.5</text>
<line x1="105.25" y1="2172.68" x2="94.55" y2="2172.68" stroke="#111" stroke-width="1.4" />
<line x1="1144.00" y1="2172.68" x2="1154.70" y2="2172.68" stroke="#111" stroke-width="1.4" />
<text x="87.50" y="2182.08" font-size="24" font-weight="bold" font-style="normal" text-anchor="end" fill="#111" >-7</text>
<line x1="105.25" y1="2217.20" x2="94.55" y2="2217.20" stroke="#111" stroke-width="1.4" />
<line x1="1144.00" y1="2217.20" x2="1154.70" y2="2217.20" stroke="#111" stroke-width="1.4" />
<text x="87.50" y="2226.60" font-size="24" font-weight="bold" font-style="normal" text-anchor="end" fill="#111" >-7.5</text>
<text x="105.25" y="2257.00" font-size="24" font-weight="bold" font-style="normal" text-anchor="middle" fill="#111" >-0.4</text>
<text x="235.09" y="2257.00" font-size="24" font-weight="bold" font-style="normal" text-anchor="middle" fill="#111" >-0.3</text>
<text x="364.93" y="2257.00" font-size="24" font-weight="bold" font-style="normal" text-anchor="middle" fill="#111" >-0.2</text>
<text x="494.77" y="2257.00" font-size="24" font-weight="bold" font-style="normal" text-anchor="middle" fill="#111" >-0.1</text>
<text x="624.61" y="2257.00" font-size="24" font-weight="bold" font-style="normal" text-anchor="middle" fill="#111" >0</text>
<text x="754.45" y="2257.00" font-size="24" font-weight="bold" font-style="normal" text-anchor="middle" fill="#111" >0.1</text>
<text x="884.29" y="2257.00" font-size="24" font-weight="bold" font-style="normal" text-anchor="middle" fill="#111" >0.2</text>
<text x="1014.13" y="2257.00" font-size="24" font-weight="bold" font-style="normal" text-anchor="middle" fill="#111" >0.3</text>
<text x="1143.97" y="2257.00" font-size="24" font-weight="bold" font-style="normal" text-anchor="middle" fill="#111" >0.4</text>
<text x="624.80" y="2287.60" font-size="27.2" font-weight="bold" font-style="normal" text-anchor="middle" fill="#111" >SLA (m)</text>
<text x="248.77" y="1481.10" font-size="21.5" font-weight="bold" fill="#111" xml:space="preserve" textLength="101.2" lengthAdjust="spacingAndGlyphs">-0.4 ~  -0.1</text>
<text x="257.40" y="1500.90" font-size="21.0" font-weight="bold" fill="#111" xml:space="preserve" textLength="84.0" lengthAdjust="spacingAndGlyphs">(8 / 2912)</text>
<text x="577.17" y="1481.10" font-size="21.5" font-weight="bold" fill="#111" xml:space="preserve" textLength="94.2" lengthAdjust="spacingAndGlyphs">-0.1 ~  0.1</text>
<text x="576.80" y="1500.90" font-size="21.0" font-weight="bold" fill="#111" xml:space="preserve" textLength="95.0" lengthAdjust="spacingAndGlyphs">(27 / 8619)</text>
<text x="909.50" y="1481.10" font-size="21.5" font-weight="bold" fill="#111" xml:space="preserve" textLength="81.0" lengthAdjust="spacingAndGlyphs">0.1 ~ 0.4</text>
<text x="908.00" y="1500.90" font-size="21.0" font-weight="bold" fill="#111" xml:space="preserve" textLength="84.0" lengthAdjust="spacingAndGlyphs">(7 / 2599)</text>
<text x="248.77" y="1886.00" font-size="21.5" font-weight="bold" fill="#111" xml:space="preserve" textLength="101.2" lengthAdjust="spacingAndGlyphs">-0.4 ~  -0.1</text>
<text x="257.40" y="1905.80" font-size="21.0" font-weight="bold" fill="#111" xml:space="preserve" textLength="84.0" lengthAdjust="spacingAndGlyphs">(8 / 2912)</text>
<text x="577.17" y="1886.00" font-size="21.5" font-weight="bold" fill="#111" xml:space="preserve" textLength="94.2" lengthAdjust="spacingAndGlyphs">-0.1 ~  0.1</text>
<text x="576.80" y="1905.80" font-size="21.0" font-weight="bold" fill="#111" xml:space="preserve" textLength="95.0" lengthAdjust="spacingAndGlyphs">(27 / 8619)</text>
<text x="909.50" y="1886.00" font-size="21.5" font-weight="bold" fill="#111" xml:space="preserve" textLength="81.0" lengthAdjust="spacingAndGlyphs">0.1 ~ 0.4</text>
<text x="908.00" y="1905.80" font-size="21.0" font-weight="bold" fill="#111" xml:space="preserve" textLength="84.0" lengthAdjust="spacingAndGlyphs">(7 / 2599)</text>
<text x="624.8" y="1449.50" font-size="26.5" font-weight="bold" fill="#111" text-anchor="middle" xml:space="preserve">80 - 110 m</text>
<text x="624.8" y="1854.30" font-size="26.5" font-weight="bold" fill="#111" text-anchor="middle" xml:space="preserve">110 - 240 m</text>
<text x="114.00" y="1517.20" font-size="27.5" font-weight="bold" font-style="normal" text-anchor="start" fill="#111" >e</text>
<text x="114.50" y="1922.20" font-size="27.5" font-weight="bold" font-style="normal" text-anchor="start" fill="#111" >f</text>
<text transform="translate(29.3,1634.5) rotate(-90)" font-size="26.7" font-weight="bold" text-anchor="middle" fill="#111" xml:space="preserve">log<tspan dy="13.2" font-size="18">10</tspan><tspan dy="-13.2"> [S</tspan><tspan dy="-13.4" font-size="19.5">2</tspan><tspan dy="13.4">( s</tspan><tspan dy="-13.4" font-size="19.5">-2</tspan><tspan dy="13.4">)]</tspan></text>
<text transform="translate(29.3,2039.5) rotate(-90)" font-size="26.7" font-weight="bold" text-anchor="middle" fill="#111" xml:space="preserve">log<tspan dy="13.2" font-size="18">10</tspan><tspan dy="-13.2"> [S</tspan><tspan dy="-13.4" font-size="19.5">2</tspan><tspan dy="13.4">( s</tspan><tspan dy="-13.4" font-size="19.5">-2</tspan><tspan dy="13.4">)]</tspan></text>
<rect x="1169.2" y="1457.00" width="20.9" height="22.52" fill="#AE017E"/>
<rect x="1169.2" y="1479.22" width="20.9" height="22.52" fill="#CE1E87"/>
<rect x="1169.2" y="1501.45" width="20.9" height="22.52" fill="#E63C92"/>
<rect x="1169.2" y="1523.67" width="20.9" height="22.52" fill="#F55C9E"/>
<rect x="1169.2" y="1545.90" width="20.9" height="22.52" fill="#FF7F00"/>
<rect x="1169.2" y="1568.12" width="20.9" height="22.52" fill="#FDB254"/>
<rect x="1169.2" y="1590.35" width="20.9" height="22.52" fill="#FDBE70"/>
<rect x="1169.2" y="1612.58" width="20.9" height="22.52" fill="#31A354"/>
<rect x="1169.2" y="1634.80" width="20.9" height="22.52" fill="#74C77F"/>
<rect x="1169.2" y="1657.02" width="20.9" height="22.52" fill="#ABE0A3"/>
<rect x="1169.2" y="1679.25" width="20.9" height="22.52" fill="#ABE0A3"/>
<rect x="1169.2" y="1701.47" width="20.9" height="22.52" fill="#74C77F"/>
<rect x="1169.2" y="1723.70" width="20.9" height="22.52" fill="#31A354"/>
<rect x="1169.2" y="1745.92" width="20.9" height="22.52" fill="#A6CEE3"/>
<rect x="1169.2" y="1768.15" width="20.9" height="22.52" fill="#4A90CF"/>
<rect x="1169.2" y="1790.38" width="20.9" height="22.52" fill="#2078BA"/>
<rect x="1169.2" y="1457.00" width="20.9" height="355.60" fill="none" stroke="#777" stroke-width="0.7"/>
<line x1="1187.50" y1="1457.00" x2="1190.10" y2="1457.00" stroke="#333" stroke-width="0.8" />
<text x="1197.10" y="1465.90" font-size="22.3" font-weight="bold" font-style="normal" text-anchor="start" fill="#111" >150</text>
<line x1="1187.50" y1="1545.90" x2="1190.10" y2="1545.90" stroke="#333" stroke-width="0.8" />
<text x="1197.10" y="1554.80" font-size="22.3" font-weight="bold" font-style="normal" text-anchor="start" fill="#111" >15</text>
<line x1="1187.50" y1="1612.58" x2="1190.10" y2="1612.58" stroke="#333" stroke-width="0.8" />
<text x="1197.10" y="1621.48" font-size="22.3" font-weight="bold" font-style="normal" text-anchor="start" fill="#111" >8</text>
<line x1="1187.50" y1="1679.25" x2="1190.10" y2="1679.25" stroke="#333" stroke-width="0.8" />
<text x="1197.10" y="1688.15" font-size="22.3" font-weight="bold" font-style="normal" text-anchor="start" fill="#111" >0</text>
<line x1="1187.50" y1="1745.92" x2="1190.10" y2="1745.92" stroke="#333" stroke-width="0.8" />
<text x="1197.10" y="1754.83" font-size="22.3" font-weight="bold" font-style="normal" text-anchor="start" fill="#111" >-8</text>
<line x1="1187.50" y1="1812.60" x2="1190.10" y2="1812.60" stroke="#333" stroke-width="0.8" />
<text x="1197.10" y="1821.50" font-size="22.3" font-weight="bold" font-style="normal" text-anchor="start" fill="#111" >-15</text>
<g transform="translate(1257.5,1634.8) rotate(-90)">
<text x="-115.80" y="0.00" font-size="20.2" font-weight="bold" text-anchor="start" fill="#111" xml:space="preserve" textLength="231.7" lengthAdjust="spacingAndGlyphs">Forcing Curl× 10<tspan dy="-10.7" font-size="14.1">7</tspan><tspan dy="10.7"> (N m</tspan><tspan dy="-10.7" font-size="14.1">-3</tspan><tspan dy="10.7">)</tspan></text>
</g>
<rect x="1169.2" y="1862.00" width="20.9" height="22.52" fill="#AE017E"/>
<rect x="1169.2" y="1884.22" width="20.9" height="22.52" fill="#CE1E87"/>
<rect x="1169.2" y="1906.45" width="20.9" height="22.52" fill="#E63C92"/>
<rect x="1169.2" y="1928.67" width="20.9" height="22.52" fill="#F55C9E"/>
<rect x="1169.2" y="1950.90" width="20.9" height="22.52" fill="#FF7F00"/>
<rect x="1169.2" y="1973.12" width="20.9" height="22.52" fill="#FDB254"/>
<rect x="1169.2" y="1995.35" width="20.9" height="22.52" fill="#FDBE70"/>
<rect x="1169.2" y="2017.58" width="20.9" height="22.52" fill="#31A354"/>
<rect x="1169.2" y="2039.80" width="20.9" height="22.52" fill="#74C77F"/>
<rect x="1169.2" y="2062.03" width="20.9" height="22.52" fill="#ABE0A3"/>
<rect x="1169.2" y="2084.25" width="20.9" height="22.52" fill="#ABE0A3"/>
<rect x="1169.2" y="2106.47" width="20.9" height="22.52" fill="#74C77F"/>
<rect x="1169.2" y="2128.70" width="20.9" height="22.52" fill="#31A354"/>
<rect x="1169.2" y="2150.93" width="20.9" height="22.52" fill="#A6CEE3"/>
<rect x="1169.2" y="2173.15" width="20.9" height="22.52" fill="#4A90CF"/>
<rect x="1169.2" y="2195.38" width="20.9" height="22.52" fill="#2078BA"/>
<rect x="1169.2" y="1862.00" width="20.9" height="355.60" fill="none" stroke="#777" stroke-width="0.7"/>
<line x1="1187.50" y1="1862.00" x2="1190.10" y2="1862.00" stroke="#333" stroke-width="0.8" />
<text x="1197.10" y="1870.90" font-size="22.3" font-weight="bold" font-style="normal" text-anchor="start" fill="#111" >150</text>
<line x1="1187.50" y1="1950.90" x2="1190.10" y2="1950.90" stroke="#333" stroke-width="0.8" />
<text x="1197.10" y="1959.80" font-size="22.3" font-weight="bold" font-style="normal" text-anchor="start" fill="#111" >15</text>
<line x1="1187.50" y1="2017.58" x2="1190.10" y2="2017.58" stroke="#333" stroke-width="0.8" />
<text x="1197.10" y="2026.48" font-size="22.3" font-weight="bold" font-style="normal" text-anchor="start" fill="#111" >8</text>
<line x1="1187.50" y1="2084.25" x2="1190.10" y2="2084.25" stroke="#333" stroke-width="0.8" />
<text x="1197.10" y="2093.15" font-size="22.3" font-weight="bold" font-style="normal" text-anchor="start" fill="#111" >0</text>
<line x1="1187.50" y1="2150.93" x2="1190.10" y2="2150.93" stroke="#333" stroke-width="0.8" />
<text x="1197.10" y="2159.83" font-size="22.3" font-weight="bold" font-style="normal" text-anchor="start" fill="#111" >-8</text>
<line x1="1187.50" y1="2217.60" x2="1190.10" y2="2217.60" stroke="#333" stroke-width="0.8" />
<text x="1197.10" y="2226.50" font-size="22.3" font-weight="bold" font-style="normal" text-anchor="start" fill="#111" >-15</text>
<g transform="translate(1257.5,2039.8) rotate(-90)">
<text x="-115.80" y="0.00" font-size="20.2" font-weight="bold" text-anchor="start" fill="#111" xml:space="preserve" textLength="231.7" lengthAdjust="spacingAndGlyphs">Forcing Curl× 10<tspan dy="-10.7" font-size="14.1">7</tspan><tspan dy="10.7"> (N m</tspan><tspan dy="-10.7" font-size="14.1">-3</tspan><tspan dy="10.7">)</tspan></text>
</g>
</svg>
</body></html>
